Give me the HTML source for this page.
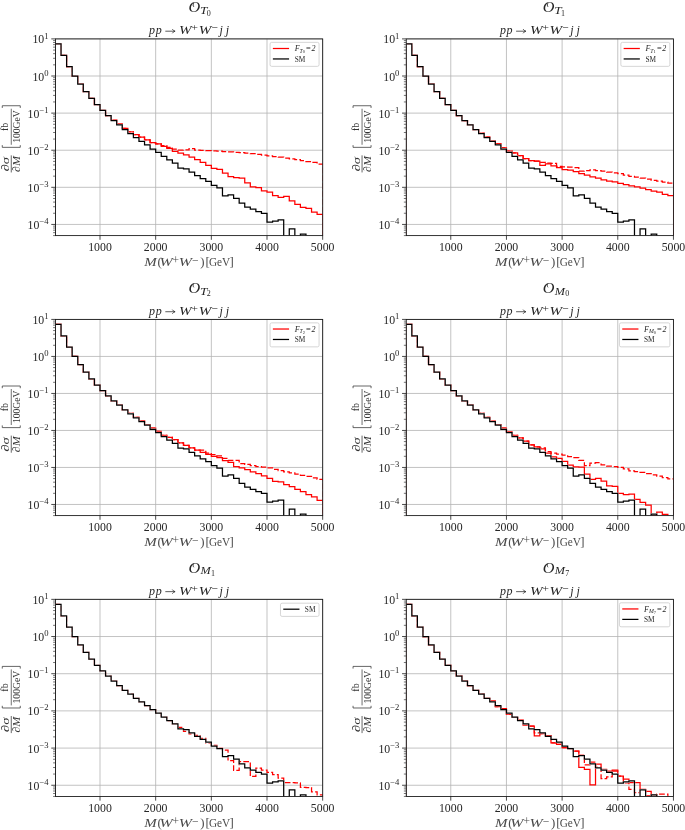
<!DOCTYPE html>
<html lang="en"><head><meta charset="utf-8"><title>VBS aQGC invariant mass distributions</title>
<style>html,body{margin:0;padding:0;background:#fff}body{width:685px;height:830px;overflow:hidden;font-family:"Liberation Serif",serif}svg{display:block;will-change:transform}svg text{font-family:"Liberation Serif",serif}</style></head><body>
<svg width="685" height="830" viewBox="0 0 685 830">
<rect width="685" height="830" fill="#ffffff"/>
<g fill="#262626">
<g>
<clipPath id="c0"><rect x="55.47" y="38.9" width="267.2" height="196.7"/></clipPath>
<path d="M100 38.9 V235.6 M155.67 38.9 V235.6 M211.34 38.9 V235.6 M267 38.9 V235.6 M322.67 38.9 V235.6 M55.47 38.9 H322.67 M55.47 76.01 H322.67 M55.47 113.11 H322.67 M55.47 150.22 H322.67 M55.47 187.32 H322.67 M55.47 224.43 H322.67" stroke="#b4b4b4" stroke-width="0.8" fill="none"/>
<mask id="m0" maskUnits="userSpaceOnUse" x="53.47" y="36.9" width="271.2" height="200.7"><rect x="53.47" y="36.9" width="271.2" height="200.7" fill="#fff"/><path d="M55.17 241.6 L55.17 43.95 L61.04 43.95 L61.04 55.38 L66.6 55.38 L66.6 66.58 L72.17 66.58 L72.17 76.01 L77.74 76.01 L77.74 84.24 L83.3 84.24 L83.3 91.7 L88.87 91.7 L88.87 98.46 L94.44 98.46 L94.44 104.69 L100 104.69 L100 110.33 L105.57 110.33 L105.57 115.52 L111.14 115.52 L111.14 120.53 L116.7 120.53 L116.7 124.95 L122.27 124.95 L122.27 129.66 L127.84 129.66 L127.84 133.56 L133.4 133.56 L133.4 137.64 L138.97 137.64 L138.97 141.31 L144.54 141.31 L144.54 144.95 L150.1 144.95 L150.1 149.07 L155.67 149.07 L155.67 152.33 L161.24 152.33 L161.24 156.34 L166.8 156.34 L166.8 159.87 L172.37 159.87 L172.37 163.24 L177.94 163.24 L177.94 168.07 L183.5 168.07 L183.5 168.81 L189.07 168.81 L189.07 172.11 L194.64 172.11 L194.64 175.71 L200.2 175.71 L200.2 178.72 L205.77 178.72 L205.77 181.39 L211.34 181.39 L211.34 185.47 L216.9 185.47 L216.9 187.92 L222.47 187.92 L222.47 195.93 L228.04 195.93 L228.04 194.86 L233.6 194.86 L233.6 198.34 L239.17 198.34 L239.17 203.21 L244.74 203.21 L244.74 207.1 L250.3 207.1 L250.3 209.22 L255.87 209.22 L255.87 211.59 L261.44 211.59 L261.44 213.3 L267 213.3 L267 222.2 L272.57 222.2 L272.57 221.16 L278.14 221.16 L278.14 219.98 L283.7 219.98 L283.7 241.6 L289.27 241.6 L289.27 228.99 L294.84 228.99 L294.84 241.6 L300.4 241.6 L300.4 234.04 L305.97 234.04 L305.97 241.6 L311.54 241.6 L311.54 241.6 L317.1 241.6 L317.1 241.6 L323.17 241.6 L323.17 241.6" fill="none" stroke="#000" stroke-width="1.5"/></mask>
<g clip-path="url(#c0)" fill="none" stroke-linejoin="miter" stroke-width="1.25">
<g mask="url(#m0)">
<path d="M55.17 241.6 L55.17 43.95 L61.04 43.95 L61.04 55.38 L66.6 55.38 L66.6 66.58 L72.17 66.58 L72.17 76.01 L77.74 76.01 L77.74 84.24 L83.3 84.24 L83.3 91.7 L88.87 91.7 L88.87 98.46 L94.44 98.46 L94.44 104.69 L100 104.69 L100 110.33 L105.57 110.33 L105.57 115.52 L111.14 115.52 L111.14 120.13 L116.7 120.13 L116.7 124.06 L122.27 124.06 L122.27 128.44 L127.84 128.44 L127.84 131.81 L133.4 131.81 L133.4 134.74 L138.97 134.74 L138.97 137.23 L144.54 137.23 L144.54 139.83 L150.1 139.83 L150.1 142.54 L155.67 142.54 L155.67 143.8 L161.24 143.8 L161.24 145.54 L166.8 145.54 L166.8 147.29 L172.37 147.29 L172.37 149.07 L177.94 149.07 L177.94 150.22 L183.5 150.22 L183.5 149.92 L189.07 149.92 L189.07 148.55 L194.64 148.55 L194.64 150.22 L200.2 150.22 L200.2 150.44 L205.77 150.44 L205.77 150.59 L211.34 150.59 L211.34 150.89 L216.9 150.89 L216.9 151.15 L222.47 151.15 L222.47 151.63 L228.04 151.63 L228.04 151.96 L233.6 151.96 L233.6 152.33 L239.17 152.33 L239.17 152.74 L244.74 152.74 L244.74 153.19 L250.3 153.19 L250.3 153.74 L255.87 153.74 L255.87 154.41 L261.44 154.41 L261.44 155.04 L267 155.04 L267 155.82 L272.57 155.82 L272.57 156.53 L278.14 156.53 L278.14 157.23 L283.7 157.23 L283.7 158.01 L289.27 158.01 L289.27 158.79 L294.84 158.79 L294.84 159.68 L300.4 159.68 L300.4 160.72 L305.97 160.72 L305.97 161.54 L311.54 161.54 L311.54 162.46 L317.1 162.46 L317.1 164.21 L323.17 164.21 L323.17 241.6" stroke="#ff0000" stroke-dasharray="5.7 2.2"/>
<path d="M55.17 241.6 L55.17 43.95 L61.04 43.95 L61.04 55.38 L66.6 55.38 L66.6 66.58 L72.17 66.58 L72.17 76.01 L77.74 76.01 L77.74 84.24 L83.3 84.24 L83.3 91.7 L88.87 91.7 L88.87 98.46 L94.44 98.46 L94.44 104.69 L100 104.69 L100 110.33 L105.57 110.33 L105.57 115.52 L111.14 115.52 L111.14 120.13 L116.7 120.13 L116.7 124.06 L122.27 124.06 L122.27 128.44 L127.84 128.44 L127.84 131.81 L133.4 131.81 L133.4 134.74 L138.97 134.74 L138.97 137.23 L144.54 137.23 L144.54 139.83 L150.1 139.83 L150.1 142.54 L155.67 142.54 L155.67 143.8 L161.24 143.8 L161.24 146.36 L166.8 146.36 L166.8 148.47 L172.37 148.47 L172.37 151.37 L177.94 151.37 L177.94 153.15 L183.5 153.15 L183.5 154.89 L189.07 154.89 L189.07 157.23 L194.64 157.23 L194.64 159.57 L200.2 159.57 L200.2 162.46 L205.77 162.46 L205.77 165.25 L211.34 165.25 L211.34 168.4 L216.9 168.4 L216.9 169.48 L222.47 169.48 L222.47 173.15 L228.04 173.15 L228.04 176.64 L233.6 176.64 L233.6 177.68 L239.17 177.68 L239.17 178.23 L244.74 178.23 L244.74 182.95 L250.3 182.95 L250.3 186.95 L255.87 186.95 L255.87 187.7 L261.44 187.7 L261.44 190.81 L267 190.81 L267 192.04 L272.57 192.04 L272.57 195.71 L278.14 195.71 L278.14 197.49 L283.7 197.49 L283.7 196.41 L289.27 196.41 L289.27 200.98 L294.84 200.98 L294.84 204.47 L300.4 204.47 L300.4 207.44 L305.97 207.44 L305.97 208.33 L311.54 208.33 L311.54 212.19 L317.1 212.19 L317.1 214.45 L323.17 214.45 L323.17 241.6" stroke="#ff0000"/>
</g>
<path d="M55.17 241.6 L55.17 43.95 L61.04 43.95 L61.04 55.38 L66.6 55.38 L66.6 66.58 L72.17 66.58 L72.17 76.01 L77.74 76.01 L77.74 84.24 L83.3 84.24 L83.3 91.7 L88.87 91.7 L88.87 98.46 L94.44 98.46 L94.44 104.69 L100 104.69 L100 110.33 L105.57 110.33 L105.57 115.52 L111.14 115.52 L111.14 120.53 L116.7 120.53 L116.7 124.95 L122.27 124.95 L122.27 129.66 L127.84 129.66 L127.84 133.56 L133.4 133.56 L133.4 137.64 L138.97 137.64 L138.97 141.31 L144.54 141.31 L144.54 144.95 L150.1 144.95 L150.1 149.07 L155.67 149.07 L155.67 152.33 L161.24 152.33 L161.24 156.34 L166.8 156.34 L166.8 159.87 L172.37 159.87 L172.37 163.24 L177.94 163.24 L177.94 168.07 L183.5 168.07 L183.5 168.81 L189.07 168.81 L189.07 172.11 L194.64 172.11 L194.64 175.71 L200.2 175.71 L200.2 178.72 L205.77 178.72 L205.77 181.39 L211.34 181.39 L211.34 185.47 L216.9 185.47 L216.9 187.92 L222.47 187.92 L222.47 195.93 L228.04 195.93 L228.04 194.86 L233.6 194.86 L233.6 198.34 L239.17 198.34 L239.17 203.21 L244.74 203.21 L244.74 207.1 L250.3 207.1 L250.3 209.22 L255.87 209.22 L255.87 211.59 L261.44 211.59 L261.44 213.3 L267 213.3 L267 222.2 L272.57 222.2 L272.57 221.16 L278.14 221.16 L278.14 219.98 L283.7 219.98 L283.7 241.6 L289.27 241.6 L289.27 228.99 L294.84 228.99 L294.84 241.6 L300.4 241.6 L300.4 234.04 L305.97 234.04 L305.97 241.6 L311.54 241.6 L311.54 241.6 L317.1 241.6 L317.1 241.6 L323.17 241.6 L323.17 241.6" stroke="#000000"/>
</g>
<path d="M100 235.6 v4.2 M155.67 235.6 v4.2 M211.34 235.6 v4.2 M267 235.6 v4.2 M322.67 235.6 v4.2 M55.47 38.9 h-4.2 M55.47 76.01 h-4.2 M55.47 113.11 h-4.2 M55.47 150.22 h-4.2 M55.47 187.32 h-4.2 M55.47 224.43 h-4.2" stroke="#1a1a1a" stroke-width="0.8" fill="none"/>
<path d="M55.47 64.84 h-2.4 M55.47 58.3 h-2.4 M55.47 53.67 h-2.4 M55.47 50.07 h-2.4 M55.47 47.13 h-2.4 M55.47 44.65 h-2.4 M55.47 42.5 h-2.4 M55.47 40.6 h-2.4 M55.47 101.94 h-2.4 M55.47 95.41 h-2.4 M55.47 90.77 h-2.4 M55.47 87.18 h-2.4 M55.47 84.24 h-2.4 M55.47 81.75 h-2.4 M55.47 79.6 h-2.4 M55.47 77.7 h-2.4 M55.47 139.05 h-2.4 M55.47 132.51 h-2.4 M55.47 127.88 h-2.4 M55.47 124.28 h-2.4 M55.47 121.34 h-2.4 M55.47 118.86 h-2.4 M55.47 116.71 h-2.4 M55.47 114.81 h-2.4 M55.47 176.15 h-2.4 M55.47 169.62 h-2.4 M55.47 164.98 h-2.4 M55.47 161.39 h-2.4 M55.47 158.45 h-2.4 M55.47 155.97 h-2.4 M55.47 153.81 h-2.4 M55.47 151.92 h-2.4 M55.47 213.26 h-2.4 M55.47 206.73 h-2.4 M55.47 202.09 h-2.4 M55.47 198.49 h-2.4 M55.47 195.56 h-2.4 M55.47 193.07 h-2.4 M55.47 190.92 h-2.4 M55.47 189.02 h-2.4 M55.47 235.6 h-2.4 M55.47 232.66 h-2.4 M55.47 230.18 h-2.4 M55.47 228.03 h-2.4 M55.47 226.13 h-2.4" stroke="#1a1a1a" stroke-width="0.6" fill="none"/>
<rect x="55.47" y="38.9" width="267.2" height="196.7" fill="none" stroke="#1a1a1a" stroke-width="0.88"/>
<text x="100" y="251.2" font-size="11.8" text-anchor="middle">1000</text>
<text x="155.67" y="251.2" font-size="11.8" text-anchor="middle">2000</text>
<text x="211.34" y="251.2" font-size="11.8" text-anchor="middle">3000</text>
<text x="267" y="251.2" font-size="11.8" text-anchor="middle">4000</text>
<text x="322.67" y="251.2" font-size="11.8" text-anchor="middle">5000</text>
<text x="48.57" y="43.4" font-size="11.8" text-anchor="end">10<tspan dy="-4.9" font-size="8.6">1</tspan></text>
<text x="48.57" y="80.51" font-size="11.8" text-anchor="end">10<tspan dy="-4.9" font-size="8.6">0</tspan></text>
<text x="48.57" y="117.61" font-size="11.8" text-anchor="end">10<tspan dy="-4.9" font-size="8.6">−1</tspan></text>
<text x="48.57" y="154.72" font-size="11.8" text-anchor="end">10<tspan dy="-4.9" font-size="8.6">−2</tspan></text>
<text x="48.57" y="191.82" font-size="11.8" text-anchor="end">10<tspan dy="-4.9" font-size="8.6">−3</tspan></text>
<text x="48.57" y="228.93" font-size="11.8" text-anchor="end">10<tspan dy="-4.9" font-size="8.6">−4</tspan></text>
<text x="144.32" y="265.9" font-size="12.8" font-style="italic" textLength="12.5" lengthAdjust="spacingAndGlyphs" fill="#4a4a4a">M</text>
<text x="157.42" y="265.9" font-size="12.8" fill="#4a4a4a">(</text>
<text x="159.42" y="265.9" font-size="12.8" font-style="italic" textLength="13.2" lengthAdjust="spacingAndGlyphs" fill="#4a4a4a">W</text>
<text x="172.62" y="263.9" font-size="11.6" fill="#4a4a4a">+</text>
<text x="178.72" y="265.9" font-size="12.8" font-style="italic" textLength="13.2" lengthAdjust="spacingAndGlyphs" fill="#4a4a4a">W</text>
<text x="192.02" y="263.9" font-size="11.6" fill="#4a4a4a">−</text>
<text x="200.32" y="265.9" font-size="12.8" fill="#4a4a4a">)</text>
<text x="205.42" y="265.9" font-size="12.8" fill="#4a4a4a">[</text>
<text x="208.92" y="265.9" font-size="12.8" textLength="21.3" lengthAdjust="spacingAndGlyphs" fill="#4a4a4a">GeV</text>
<text x="229.42" y="265.9" font-size="12.8" fill="#4a4a4a">]</text>
<text x="149.12" y="34.1" font-size="12" font-style="italic" textLength="12.6" lengthAdjust="spacing">pp</text>
<path d="M165.32 31.2 h9.6 m-2.6 -2.1 q0.9 1.6 2.8 2.1 q-1.9 0.5 -2.8 2.1" fill="none" stroke="#262626" stroke-width="0.75"/>
<text x="179.12" y="34.1" font-size="12" font-style="italic" textLength="12.6" lengthAdjust="spacingAndGlyphs">W</text>
<text x="191.62" y="31.3" font-size="11.4">+</text>
<text x="198.82" y="34.1" font-size="12" font-style="italic" textLength="12.6" lengthAdjust="spacingAndGlyphs">W</text>
<text x="211.42" y="31.3" font-size="11.4">−</text>
<text x="219.42" y="34.1" font-size="12" font-style="italic">j</text>
<text x="225.82" y="34.1" font-size="12" font-style="italic">j</text>
<g transform="translate(10.17 139.15) rotate(-90)" fill="#333333">
<text x="-25" y="-0.9" font-size="11" text-anchor="middle" font-style="italic" textLength="14.4" lengthAdjust="spacingAndGlyphs">∂σ</text>
<path d="M-33.3 1.1 H-16.2" stroke="#333333" stroke-width="0.75"/>
<text x="-24.8" y="10.2" font-size="10.8" text-anchor="middle" font-style="italic" textLength="16" lengthAdjust="spacingAndGlyphs">∂M</text>
<path d="M-6.0 -7.9 H-8.2 V10.1 H-6.0" stroke="#333333" stroke-width="0.75" fill="none"/>
<text x="12.3" y="-1.9" font-size="10" text-anchor="middle">fb</text>
<path d="M-5.6 1.1 H30.4" stroke="#333333" stroke-width="0.7"/>
<text x="12.6" y="9.8" font-size="10.2" text-anchor="middle" textLength="32.6" lengthAdjust="spacingAndGlyphs">100GeV</text>
<path d="M31.2 -7.9 H33.4 V10.1 H31.2" stroke="#333333" stroke-width="0.75" fill="none"/>
</g>
<text x="188.47" y="12.3" font-size="13.8" font-style="italic" textLength="11.7" lengthAdjust="spacingAndGlyphs">O</text>
<path transform="translate(188.97 12.1)" d="M4.6 -5.6 C4.0 -6.4 3.9 -7.6 4.6 -8.7" fill="none" stroke="#262626" stroke-width="0.9" stroke-linecap="round"/>
<text x="199.97" y="14" font-size="9.4" font-style="italic" textLength="7.4" lengthAdjust="spacingAndGlyphs">T</text>
<text x="206.87" y="15.5" font-size="8">0</text>
<rect x="270.07" y="42.35" width="49" height="24" rx="1.6" fill="#ffffff" fill-opacity="0.8" stroke="#cccccc" stroke-width="0.8"/>
<path d="M272.87 48.5 h16.2" stroke="#ff0000" stroke-width="1.25"/>
<path d="M272.87 58.95 h16.2" stroke="#000000" stroke-width="1.25"/>
<text x="294.67" y="51.1" font-size="8"><tspan font-style="italic">F</tspan><tspan dy="1.4" font-size="5.8" font-style="italic">T</tspan><tspan dy="0.9" font-size="4.4">0</tspan><tspan dy="-2.3" dx="1.1" font-size="8.4">=</tspan><tspan dx="0.7" font-style="italic">2</tspan></text>
<text x="294.67" y="61.6" font-size="7.7" textLength="10.6" lengthAdjust="spacingAndGlyphs">SM</text>
</g>
<g>
<clipPath id="c1"><rect x="406.25" y="38.9" width="267.2" height="196.7"/></clipPath>
<path d="M450.78 38.9 V235.6 M506.45 38.9 V235.6 M562.12 38.9 V235.6 M617.78 38.9 V235.6 M673.45 38.9 V235.6 M406.25 38.9 H673.45 M406.25 76.01 H673.45 M406.25 113.11 H673.45 M406.25 150.22 H673.45 M406.25 187.32 H673.45 M406.25 224.43 H673.45" stroke="#b4b4b4" stroke-width="0.8" fill="none"/>
<mask id="m1" maskUnits="userSpaceOnUse" x="404.25" y="36.9" width="271.2" height="200.7"><rect x="404.25" y="36.9" width="271.2" height="200.7" fill="#fff"/><path d="M405.95 241.6 L405.95 43.95 L411.82 43.95 L411.82 55.38 L417.38 55.38 L417.38 66.58 L422.95 66.58 L422.95 76.01 L428.52 76.01 L428.52 84.24 L434.08 84.24 L434.08 91.7 L439.65 91.7 L439.65 98.46 L445.22 98.46 L445.22 104.69 L450.78 104.69 L450.78 110.33 L456.35 110.33 L456.35 115.52 L461.92 115.52 L461.92 120.53 L467.48 120.53 L467.48 124.95 L473.05 124.95 L473.05 129.66 L478.62 129.66 L478.62 133.56 L484.18 133.56 L484.18 137.64 L489.75 137.64 L489.75 141.31 L495.32 141.31 L495.32 144.95 L500.88 144.95 L500.88 149.07 L506.45 149.07 L506.45 152.33 L512.02 152.33 L512.02 156.34 L517.58 156.34 L517.58 159.87 L523.15 159.87 L523.15 163.24 L528.72 163.24 L528.72 168.07 L534.28 168.07 L534.28 168.81 L539.85 168.81 L539.85 172.11 L545.42 172.11 L545.42 175.71 L550.98 175.71 L550.98 178.72 L556.55 178.72 L556.55 181.39 L562.12 181.39 L562.12 185.47 L567.68 185.47 L567.68 187.92 L573.25 187.92 L573.25 195.93 L578.82 195.93 L578.82 194.86 L584.38 194.86 L584.38 198.34 L589.95 198.34 L589.95 203.21 L595.52 203.21 L595.52 207.1 L601.08 207.1 L601.08 209.22 L606.65 209.22 L606.65 211.59 L612.22 211.59 L612.22 213.3 L617.78 213.3 L617.78 222.2 L623.35 222.2 L623.35 221.16 L628.92 221.16 L628.92 219.98 L634.48 219.98 L634.48 241.6 L640.05 241.6 L640.05 228.99 L645.62 228.99 L645.62 241.6 L651.18 241.6 L651.18 234.04 L656.75 234.04 L656.75 241.6 L662.32 241.6 L662.32 241.6 L667.88 241.6 L667.88 241.6 L673.95 241.6 L673.95 241.6" fill="none" stroke="#000" stroke-width="1.5"/></mask>
<g clip-path="url(#c1)" fill="none" stroke-linejoin="miter" stroke-width="1.25">
<g mask="url(#m1)">
<path d="M405.95 241.6 L405.95 43.95 L411.82 43.95 L411.82 55.38 L417.38 55.38 L417.38 66.58 L422.95 66.58 L422.95 76.01 L428.52 76.01 L428.52 84.24 L434.08 84.24 L434.08 91.7 L439.65 91.7 L439.65 98.46 L445.22 98.46 L445.22 104.69 L450.78 104.69 L450.78 110.33 L456.35 110.33 L456.35 115.52 L461.92 115.52 L461.92 120.53 L467.48 120.53 L467.48 124.95 L473.05 124.95 L473.05 129.66 L478.62 129.66 L478.62 133.19 L484.18 133.19 L484.18 137.08 L489.75 137.08 L489.75 140.57 L495.32 140.57 L495.32 143.84 L500.88 143.84 L500.88 147.81 L506.45 147.81 L506.45 151.15 L512.02 151.15 L512.02 152.96 L517.58 152.96 L517.58 155.52 L523.15 155.52 L523.15 158.6 L528.72 158.6 L528.72 160.64 L534.28 160.64 L534.28 161.16 L539.85 161.16 L539.85 162.46 L545.42 162.46 L545.42 163.21 L550.98 163.21 L550.98 163.39 L556.55 163.39 L556.55 166.47 L562.12 166.47 L562.12 166.92 L567.68 166.92 L567.68 167.21 L573.25 167.21 L573.25 167.55 L578.82 167.55 L578.82 171.22 L584.38 171.22 L584.38 170.7 L589.95 170.7 L589.95 169.81 L595.52 169.81 L595.52 170.7 L601.08 170.7 L601.08 171.22 L606.65 171.22 L606.65 172.11 L612.22 172.11 L612.22 172.78 L617.78 172.78 L617.78 173.67 L623.35 173.67 L623.35 175.08 L628.92 175.08 L628.92 176.3 L634.48 176.3 L634.48 177.16 L640.05 177.16 L640.05 178.23 L645.62 178.23 L645.62 179.09 L651.18 179.09 L651.18 180.31 L656.75 180.31 L656.75 181.2 L662.32 181.2 L662.32 182.05 L667.88 182.05 L667.88 183.13 L673.95 183.13 L673.95 241.6" stroke="#ff0000" stroke-dasharray="5.7 2.2"/>
<path d="M405.95 241.6 L405.95 43.95 L411.82 43.95 L411.82 55.38 L417.38 55.38 L417.38 66.58 L422.95 66.58 L422.95 76.01 L428.52 76.01 L428.52 84.24 L434.08 84.24 L434.08 91.7 L439.65 91.7 L439.65 98.46 L445.22 98.46 L445.22 104.69 L450.78 104.69 L450.78 110.33 L456.35 110.33 L456.35 115.52 L461.92 115.52 L461.92 120.53 L467.48 120.53 L467.48 124.95 L473.05 124.95 L473.05 129.66 L478.62 129.66 L478.62 133.19 L484.18 133.19 L484.18 137.08 L489.75 137.08 L489.75 140.57 L495.32 140.57 L495.32 143.84 L500.88 143.84 L500.88 147.81 L506.45 147.81 L506.45 151.15 L512.02 151.15 L512.02 152.96 L517.58 152.96 L517.58 155.52 L523.15 155.52 L523.15 158.6 L528.72 158.6 L528.72 160.64 L534.28 160.64 L534.28 161.16 L539.85 161.16 L539.85 165.43 L545.42 165.43 L545.42 163.95 L550.98 163.95 L550.98 165.77 L556.55 165.77 L556.55 167.51 L562.12 167.51 L562.12 169.59 L567.68 169.59 L567.68 170.18 L573.25 170.18 L573.25 171.55 L578.82 171.55 L578.82 173.67 L584.38 173.67 L584.38 175.08 L589.95 175.08 L589.95 176.82 L595.52 176.82 L595.52 178.23 L601.08 178.23 L601.08 179.9 L606.65 179.9 L606.65 181.2 L612.22 181.2 L612.22 181.76 L617.78 181.76 L617.78 183.46 L623.35 183.46 L623.35 184.73 L628.92 184.73 L628.92 185.91 L634.48 185.91 L634.48 186.95 L640.05 186.95 L640.05 188.21 L645.62 188.21 L645.62 189.55 L651.18 189.55 L651.18 191.18 L656.75 191.18 L656.75 192.22 L662.32 192.22 L662.32 194.34 L667.88 194.34 L667.88 195.71 L673.95 195.71 L673.95 241.6" stroke="#ff0000"/>
</g>
<path d="M405.95 241.6 L405.95 43.95 L411.82 43.95 L411.82 55.38 L417.38 55.38 L417.38 66.58 L422.95 66.58 L422.95 76.01 L428.52 76.01 L428.52 84.24 L434.08 84.24 L434.08 91.7 L439.65 91.7 L439.65 98.46 L445.22 98.46 L445.22 104.69 L450.78 104.69 L450.78 110.33 L456.35 110.33 L456.35 115.52 L461.92 115.52 L461.92 120.53 L467.48 120.53 L467.48 124.95 L473.05 124.95 L473.05 129.66 L478.62 129.66 L478.62 133.56 L484.18 133.56 L484.18 137.64 L489.75 137.64 L489.75 141.31 L495.32 141.31 L495.32 144.95 L500.88 144.95 L500.88 149.07 L506.45 149.07 L506.45 152.33 L512.02 152.33 L512.02 156.34 L517.58 156.34 L517.58 159.87 L523.15 159.87 L523.15 163.24 L528.72 163.24 L528.72 168.07 L534.28 168.07 L534.28 168.81 L539.85 168.81 L539.85 172.11 L545.42 172.11 L545.42 175.71 L550.98 175.71 L550.98 178.72 L556.55 178.72 L556.55 181.39 L562.12 181.39 L562.12 185.47 L567.68 185.47 L567.68 187.92 L573.25 187.92 L573.25 195.93 L578.82 195.93 L578.82 194.86 L584.38 194.86 L584.38 198.34 L589.95 198.34 L589.95 203.21 L595.52 203.21 L595.52 207.1 L601.08 207.1 L601.08 209.22 L606.65 209.22 L606.65 211.59 L612.22 211.59 L612.22 213.3 L617.78 213.3 L617.78 222.2 L623.35 222.2 L623.35 221.16 L628.92 221.16 L628.92 219.98 L634.48 219.98 L634.48 241.6 L640.05 241.6 L640.05 228.99 L645.62 228.99 L645.62 241.6 L651.18 241.6 L651.18 234.04 L656.75 234.04 L656.75 241.6 L662.32 241.6 L662.32 241.6 L667.88 241.6 L667.88 241.6 L673.95 241.6 L673.95 241.6" stroke="#000000"/>
</g>
<path d="M450.78 235.6 v4.2 M506.45 235.6 v4.2 M562.12 235.6 v4.2 M617.78 235.6 v4.2 M673.45 235.6 v4.2 M406.25 38.9 h-4.2 M406.25 76.01 h-4.2 M406.25 113.11 h-4.2 M406.25 150.22 h-4.2 M406.25 187.32 h-4.2 M406.25 224.43 h-4.2" stroke="#1a1a1a" stroke-width="0.8" fill="none"/>
<path d="M406.25 64.84 h-2.4 M406.25 58.3 h-2.4 M406.25 53.67 h-2.4 M406.25 50.07 h-2.4 M406.25 47.13 h-2.4 M406.25 44.65 h-2.4 M406.25 42.5 h-2.4 M406.25 40.6 h-2.4 M406.25 101.94 h-2.4 M406.25 95.41 h-2.4 M406.25 90.77 h-2.4 M406.25 87.18 h-2.4 M406.25 84.24 h-2.4 M406.25 81.75 h-2.4 M406.25 79.6 h-2.4 M406.25 77.7 h-2.4 M406.25 139.05 h-2.4 M406.25 132.51 h-2.4 M406.25 127.88 h-2.4 M406.25 124.28 h-2.4 M406.25 121.34 h-2.4 M406.25 118.86 h-2.4 M406.25 116.71 h-2.4 M406.25 114.81 h-2.4 M406.25 176.15 h-2.4 M406.25 169.62 h-2.4 M406.25 164.98 h-2.4 M406.25 161.39 h-2.4 M406.25 158.45 h-2.4 M406.25 155.97 h-2.4 M406.25 153.81 h-2.4 M406.25 151.92 h-2.4 M406.25 213.26 h-2.4 M406.25 206.73 h-2.4 M406.25 202.09 h-2.4 M406.25 198.49 h-2.4 M406.25 195.56 h-2.4 M406.25 193.07 h-2.4 M406.25 190.92 h-2.4 M406.25 189.02 h-2.4 M406.25 235.6 h-2.4 M406.25 232.66 h-2.4 M406.25 230.18 h-2.4 M406.25 228.03 h-2.4 M406.25 226.13 h-2.4" stroke="#1a1a1a" stroke-width="0.6" fill="none"/>
<rect x="406.25" y="38.9" width="267.2" height="196.7" fill="none" stroke="#1a1a1a" stroke-width="0.88"/>
<text x="450.78" y="251.2" font-size="11.8" text-anchor="middle">1000</text>
<text x="506.45" y="251.2" font-size="11.8" text-anchor="middle">2000</text>
<text x="562.12" y="251.2" font-size="11.8" text-anchor="middle">3000</text>
<text x="617.78" y="251.2" font-size="11.8" text-anchor="middle">4000</text>
<text x="673.45" y="251.2" font-size="11.8" text-anchor="middle">5000</text>
<text x="399.35" y="43.4" font-size="11.8" text-anchor="end">10<tspan dy="-4.9" font-size="8.6">1</tspan></text>
<text x="399.35" y="80.51" font-size="11.8" text-anchor="end">10<tspan dy="-4.9" font-size="8.6">0</tspan></text>
<text x="399.35" y="117.61" font-size="11.8" text-anchor="end">10<tspan dy="-4.9" font-size="8.6">−1</tspan></text>
<text x="399.35" y="154.72" font-size="11.8" text-anchor="end">10<tspan dy="-4.9" font-size="8.6">−2</tspan></text>
<text x="399.35" y="191.82" font-size="11.8" text-anchor="end">10<tspan dy="-4.9" font-size="8.6">−3</tspan></text>
<text x="399.35" y="228.93" font-size="11.8" text-anchor="end">10<tspan dy="-4.9" font-size="8.6">−4</tspan></text>
<text x="495.1" y="265.9" font-size="12.8" font-style="italic" textLength="12.5" lengthAdjust="spacingAndGlyphs" fill="#4a4a4a">M</text>
<text x="508.2" y="265.9" font-size="12.8" fill="#4a4a4a">(</text>
<text x="510.2" y="265.9" font-size="12.8" font-style="italic" textLength="13.2" lengthAdjust="spacingAndGlyphs" fill="#4a4a4a">W</text>
<text x="523.4" y="263.9" font-size="11.6" fill="#4a4a4a">+</text>
<text x="529.5" y="265.9" font-size="12.8" font-style="italic" textLength="13.2" lengthAdjust="spacingAndGlyphs" fill="#4a4a4a">W</text>
<text x="542.8" y="263.9" font-size="11.6" fill="#4a4a4a">−</text>
<text x="551.1" y="265.9" font-size="12.8" fill="#4a4a4a">)</text>
<text x="556.2" y="265.9" font-size="12.8" fill="#4a4a4a">[</text>
<text x="559.7" y="265.9" font-size="12.8" textLength="21.3" lengthAdjust="spacingAndGlyphs" fill="#4a4a4a">GeV</text>
<text x="580.2" y="265.9" font-size="12.8" fill="#4a4a4a">]</text>
<text x="499.9" y="34.1" font-size="12" font-style="italic" textLength="12.6" lengthAdjust="spacing">pp</text>
<path d="M516.1 31.2 h9.6 m-2.6 -2.1 q0.9 1.6 2.8 2.1 q-1.9 0.5 -2.8 2.1" fill="none" stroke="#262626" stroke-width="0.75"/>
<text x="529.9" y="34.1" font-size="12" font-style="italic" textLength="12.6" lengthAdjust="spacingAndGlyphs">W</text>
<text x="542.4" y="31.3" font-size="11.4">+</text>
<text x="549.6" y="34.1" font-size="12" font-style="italic" textLength="12.6" lengthAdjust="spacingAndGlyphs">W</text>
<text x="562.2" y="31.3" font-size="11.4">−</text>
<text x="570.2" y="34.1" font-size="12" font-style="italic">j</text>
<text x="576.6" y="34.1" font-size="12" font-style="italic">j</text>
<g transform="translate(360.95 139.15) rotate(-90)" fill="#333333">
<text x="-25" y="-0.9" font-size="11" text-anchor="middle" font-style="italic" textLength="14.4" lengthAdjust="spacingAndGlyphs">∂σ</text>
<path d="M-33.3 1.1 H-16.2" stroke="#333333" stroke-width="0.75"/>
<text x="-24.8" y="10.2" font-size="10.8" text-anchor="middle" font-style="italic" textLength="16" lengthAdjust="spacingAndGlyphs">∂M</text>
<path d="M-6.0 -7.9 H-8.2 V10.1 H-6.0" stroke="#333333" stroke-width="0.75" fill="none"/>
<text x="12.3" y="-1.9" font-size="10" text-anchor="middle">fb</text>
<path d="M-5.6 1.1 H30.4" stroke="#333333" stroke-width="0.7"/>
<text x="12.6" y="9.8" font-size="10.2" text-anchor="middle" textLength="32.6" lengthAdjust="spacingAndGlyphs">100GeV</text>
<path d="M31.2 -7.9 H33.4 V10.1 H31.2" stroke="#333333" stroke-width="0.75" fill="none"/>
</g>
<text x="542.65" y="12.3" font-size="13.8" font-style="italic" textLength="11.7" lengthAdjust="spacingAndGlyphs">O</text>
<path transform="translate(543.15 12.1)" d="M4.6 -5.6 C4.0 -6.4 3.9 -7.6 4.6 -8.7" fill="none" stroke="#262626" stroke-width="0.9" stroke-linecap="round"/>
<text x="554.15" y="14" font-size="9.4" font-style="italic" textLength="7.4" lengthAdjust="spacingAndGlyphs">T</text>
<text x="561.05" y="15.5" font-size="8">1</text>
<rect x="620.85" y="42.35" width="49" height="24" rx="1.6" fill="#ffffff" fill-opacity="0.8" stroke="#cccccc" stroke-width="0.8"/>
<path d="M623.65 48.5 h16.2" stroke="#ff0000" stroke-width="1.25"/>
<path d="M623.65 58.95 h16.2" stroke="#000000" stroke-width="1.25"/>
<text x="645.45" y="51.1" font-size="8"><tspan font-style="italic">F</tspan><tspan dy="1.4" font-size="5.8" font-style="italic">T</tspan><tspan dy="0.9" font-size="4.4">1</tspan><tspan dy="-2.3" dx="1.1" font-size="8.4">=</tspan><tspan dx="0.7" font-style="italic">2</tspan></text>
<text x="645.45" y="61.6" font-size="7.7" textLength="10.6" lengthAdjust="spacingAndGlyphs">SM</text>
</g>
<g>
<clipPath id="c2"><rect x="55.47" y="319.42" width="267.2" height="196.18"/></clipPath>
<path d="M100 319.42 V515.6 M155.67 319.42 V515.6 M211.34 319.42 V515.6 M267 319.42 V515.6 M322.67 319.42 V515.6 M55.47 319.42 H322.67 M55.47 356.43 H322.67 M55.47 393.44 H322.67 M55.47 430.44 H322.67 M55.47 467.45 H322.67 M55.47 504.46 H322.67" stroke="#b4b4b4" stroke-width="0.8" fill="none"/>
<mask id="m2" maskUnits="userSpaceOnUse" x="53.47" y="317.42" width="271.2" height="200.18"><rect x="53.47" y="317.42" width="271.2" height="200.18" fill="#fff"/><path d="M55.17 521.6 L55.17 324.45 L61.04 324.45 L61.04 335.85 L66.6 335.85 L66.6 347.03 L72.17 347.03 L72.17 356.43 L77.74 356.43 L77.74 364.64 L83.3 364.64 L83.3 372.08 L88.87 372.08 L88.87 378.82 L94.44 378.82 L94.44 385.04 L100 385.04 L100 390.66 L105.57 390.66 L105.57 395.84 L111.14 395.84 L111.14 400.84 L116.7 400.84 L116.7 405.24 L122.27 405.24 L122.27 409.94 L127.84 409.94 L127.84 413.83 L133.4 413.83 L133.4 417.9 L138.97 417.9 L138.97 421.56 L144.54 421.56 L144.54 425.19 L150.1 425.19 L150.1 429.3 L155.67 429.3 L155.67 432.55 L161.24 432.55 L161.24 436.55 L166.8 436.55 L166.8 440.07 L172.37 440.07 L172.37 443.43 L177.94 443.43 L177.94 448.24 L183.5 448.24 L183.5 448.98 L189.07 448.98 L189.07 452.28 L194.64 452.28 L194.64 455.87 L200.2 455.87 L200.2 458.87 L205.77 458.87 L205.77 461.53 L211.34 461.53 L211.34 465.6 L216.9 465.6 L216.9 468.04 L222.47 468.04 L222.47 476.04 L228.04 476.04 L228.04 474.96 L233.6 474.96 L233.6 478.44 L239.17 478.44 L239.17 483.29 L244.74 483.29 L244.74 487.18 L250.3 487.18 L250.3 489.29 L255.87 489.29 L255.87 491.65 L261.44 491.65 L261.44 493.36 L267 493.36 L267 502.24 L272.57 502.24 L272.57 501.2 L278.14 501.2 L278.14 500.02 L283.7 500.02 L283.7 521.6 L289.27 521.6 L289.27 509.01 L294.84 509.01 L294.84 521.6 L300.4 521.6 L300.4 514.04 L305.97 514.04 L305.97 521.6 L311.54 521.6 L311.54 521.6 L317.1 521.6 L317.1 521.6 L323.17 521.6 L323.17 521.6" fill="none" stroke="#000" stroke-width="1.5"/></mask>
<g clip-path="url(#c2)" fill="none" stroke-linejoin="miter" stroke-width="1.25">
<g mask="url(#m2)">
<path d="M55.17 521.6 L55.17 324.45 L61.04 324.45 L61.04 335.85 L66.6 335.85 L66.6 347.03 L72.17 347.03 L72.17 356.43 L77.74 356.43 L77.74 364.64 L83.3 364.64 L83.3 372.08 L88.87 372.08 L88.87 378.82 L94.44 378.82 L94.44 385.04 L100 385.04 L100 390.66 L105.57 390.66 L105.57 395.84 L111.14 395.84 L111.14 400.84 L116.7 400.84 L116.7 405.24 L122.27 405.24 L122.27 409.94 L127.84 409.94 L127.84 413.46 L133.4 413.46 L133.4 417.34 L138.97 417.34 L138.97 420.86 L144.54 420.86 L144.54 424.52 L150.1 424.52 L150.1 428.08 L155.67 428.08 L155.67 431.37 L161.24 431.37 L161.24 435.29 L166.8 435.29 L166.8 437.25 L172.37 437.25 L172.37 439.62 L177.94 439.62 L177.94 442.77 L183.5 442.77 L183.5 445.39 L189.07 445.39 L189.07 447.76 L194.64 447.76 L194.64 450.13 L200.2 450.13 L200.2 450.13 L205.77 450.13 L205.77 453.02 L211.34 453.02 L211.34 454.5 L216.9 454.5 L216.9 455.98 L222.47 455.98 L222.47 458.38 L228.04 458.38 L228.04 460.42 L233.6 460.42 L233.6 460.42 L239.17 460.42 L239.17 463.6 L244.74 463.6 L244.74 464.45 L250.3 464.45 L250.3 465.68 L255.87 465.68 L255.87 466.71 L261.44 466.71 L261.44 467.08 L267 467.08 L267 467.97 L272.57 467.97 L272.57 469.38 L278.14 469.38 L278.14 470.6 L283.7 470.6 L283.7 471.97 L289.27 471.97 L289.27 472.85 L294.84 472.85 L294.84 474.08 L300.4 474.08 L300.4 475.48 L305.97 475.48 L305.97 476.33 L311.54 476.33 L311.54 477.92 L317.1 477.92 L317.1 479.33 L323.17 479.33 L323.17 521.6" stroke="#ff0000" stroke-dasharray="5.7 2.2"/>
<path d="M55.17 521.6 L55.17 324.45 L61.04 324.45 L61.04 335.85 L66.6 335.85 L66.6 347.03 L72.17 347.03 L72.17 356.43 L77.74 356.43 L77.74 364.64 L83.3 364.64 L83.3 372.08 L88.87 372.08 L88.87 378.82 L94.44 378.82 L94.44 385.04 L100 385.04 L100 390.66 L105.57 390.66 L105.57 395.84 L111.14 395.84 L111.14 400.84 L116.7 400.84 L116.7 405.24 L122.27 405.24 L122.27 409.94 L127.84 409.94 L127.84 413.46 L133.4 413.46 L133.4 417.34 L138.97 417.34 L138.97 420.86 L144.54 420.86 L144.54 424.52 L150.1 424.52 L150.1 428.08 L155.67 428.08 L155.67 431.37 L161.24 431.37 L161.24 435.29 L166.8 435.29 L166.8 437.25 L172.37 437.25 L172.37 439.62 L177.94 439.62 L177.94 442.77 L183.5 442.77 L183.5 445.39 L189.07 445.39 L189.07 447.76 L194.64 447.76 L194.64 450.13 L200.2 450.13 L200.2 452.35 L205.77 452.35 L205.77 454.31 L211.34 454.31 L211.34 456.35 L216.9 456.35 L216.9 457.53 L222.47 457.53 L222.47 460.61 L228.04 460.61 L228.04 462.34 L233.6 462.34 L233.6 466.71 L239.17 466.71 L239.17 467.97 L244.74 467.97 L244.74 469.71 L250.3 469.71 L250.3 471.97 L255.87 471.97 L255.87 473.74 L261.44 473.74 L261.44 475.82 L267 475.82 L267 478.44 L272.57 478.44 L272.57 481.44 L278.14 481.44 L278.14 481.96 L283.7 481.96 L283.7 484.59 L289.27 484.59 L289.27 486.66 L294.84 486.66 L294.84 489.47 L300.4 489.47 L300.4 491.58 L305.97 491.58 L305.97 494.73 L311.54 494.73 L311.54 496.84 L317.1 496.84 L317.1 500.31 L323.17 500.31 L323.17 521.6" stroke="#ff0000"/>
</g>
<path d="M55.17 521.6 L55.17 324.45 L61.04 324.45 L61.04 335.85 L66.6 335.85 L66.6 347.03 L72.17 347.03 L72.17 356.43 L77.74 356.43 L77.74 364.64 L83.3 364.64 L83.3 372.08 L88.87 372.08 L88.87 378.82 L94.44 378.82 L94.44 385.04 L100 385.04 L100 390.66 L105.57 390.66 L105.57 395.84 L111.14 395.84 L111.14 400.84 L116.7 400.84 L116.7 405.24 L122.27 405.24 L122.27 409.94 L127.84 409.94 L127.84 413.83 L133.4 413.83 L133.4 417.9 L138.97 417.9 L138.97 421.56 L144.54 421.56 L144.54 425.19 L150.1 425.19 L150.1 429.3 L155.67 429.3 L155.67 432.55 L161.24 432.55 L161.24 436.55 L166.8 436.55 L166.8 440.07 L172.37 440.07 L172.37 443.43 L177.94 443.43 L177.94 448.24 L183.5 448.24 L183.5 448.98 L189.07 448.98 L189.07 452.28 L194.64 452.28 L194.64 455.87 L200.2 455.87 L200.2 458.87 L205.77 458.87 L205.77 461.53 L211.34 461.53 L211.34 465.6 L216.9 465.6 L216.9 468.04 L222.47 468.04 L222.47 476.04 L228.04 476.04 L228.04 474.96 L233.6 474.96 L233.6 478.44 L239.17 478.44 L239.17 483.29 L244.74 483.29 L244.74 487.18 L250.3 487.18 L250.3 489.29 L255.87 489.29 L255.87 491.65 L261.44 491.65 L261.44 493.36 L267 493.36 L267 502.24 L272.57 502.24 L272.57 501.2 L278.14 501.2 L278.14 500.02 L283.7 500.02 L283.7 521.6 L289.27 521.6 L289.27 509.01 L294.84 509.01 L294.84 521.6 L300.4 521.6 L300.4 514.04 L305.97 514.04 L305.97 521.6 L311.54 521.6 L311.54 521.6 L317.1 521.6 L317.1 521.6 L323.17 521.6 L323.17 521.6" stroke="#000000"/>
</g>
<path d="M100 515.6 v4.2 M155.67 515.6 v4.2 M211.34 515.6 v4.2 M267 515.6 v4.2 M322.67 515.6 v4.2 M55.47 319.42 h-4.2 M55.47 356.43 h-4.2 M55.47 393.44 h-4.2 M55.47 430.44 h-4.2 M55.47 467.45 h-4.2 M55.47 504.46 h-4.2" stroke="#1a1a1a" stroke-width="0.8" fill="none"/>
<path d="M55.47 345.29 h-2.4 M55.47 338.77 h-2.4 M55.47 334.15 h-2.4 M55.47 330.56 h-2.4 M55.47 327.63 h-2.4 M55.47 325.15 h-2.4 M55.47 323.01 h-2.4 M55.47 321.11 h-2.4 M55.47 382.3 h-2.4 M55.47 375.78 h-2.4 M55.47 371.15 h-2.4 M55.47 367.57 h-2.4 M55.47 364.64 h-2.4 M55.47 362.16 h-2.4 M55.47 360.01 h-2.4 M55.47 358.12 h-2.4 M55.47 419.3 h-2.4 M55.47 412.79 h-2.4 M55.47 408.16 h-2.4 M55.47 404.58 h-2.4 M55.47 401.65 h-2.4 M55.47 399.17 h-2.4 M55.47 397.02 h-2.4 M55.47 395.13 h-2.4 M55.47 456.31 h-2.4 M55.47 449.79 h-2.4 M55.47 445.17 h-2.4 M55.47 441.58 h-2.4 M55.47 438.65 h-2.4 M55.47 436.18 h-2.4 M55.47 434.03 h-2.4 M55.47 432.14 h-2.4 M55.47 493.32 h-2.4 M55.47 486.8 h-2.4 M55.47 482.18 h-2.4 M55.47 478.59 h-2.4 M55.47 475.66 h-2.4 M55.47 473.18 h-2.4 M55.47 471.04 h-2.4 M55.47 469.14 h-2.4 M55.47 515.6 h-2.4 M55.47 512.67 h-2.4 M55.47 510.19 h-2.4 M55.47 508.05 h-2.4 M55.47 506.15 h-2.4" stroke="#1a1a1a" stroke-width="0.6" fill="none"/>
<rect x="55.47" y="319.42" width="267.2" height="196.18" fill="none" stroke="#1a1a1a" stroke-width="0.88"/>
<text x="100" y="531.2" font-size="11.8" text-anchor="middle">1000</text>
<text x="155.67" y="531.2" font-size="11.8" text-anchor="middle">2000</text>
<text x="211.34" y="531.2" font-size="11.8" text-anchor="middle">3000</text>
<text x="267" y="531.2" font-size="11.8" text-anchor="middle">4000</text>
<text x="322.67" y="531.2" font-size="11.8" text-anchor="middle">5000</text>
<text x="48.57" y="323.92" font-size="11.8" text-anchor="end">10<tspan dy="-4.9" font-size="8.6">1</tspan></text>
<text x="48.57" y="360.93" font-size="11.8" text-anchor="end">10<tspan dy="-4.9" font-size="8.6">0</tspan></text>
<text x="48.57" y="397.94" font-size="11.8" text-anchor="end">10<tspan dy="-4.9" font-size="8.6">−1</tspan></text>
<text x="48.57" y="434.94" font-size="11.8" text-anchor="end">10<tspan dy="-4.9" font-size="8.6">−2</tspan></text>
<text x="48.57" y="471.95" font-size="11.8" text-anchor="end">10<tspan dy="-4.9" font-size="8.6">−3</tspan></text>
<text x="48.57" y="508.96" font-size="11.8" text-anchor="end">10<tspan dy="-4.9" font-size="8.6">−4</tspan></text>
<text x="144.32" y="545.9" font-size="12.8" font-style="italic" textLength="12.5" lengthAdjust="spacingAndGlyphs" fill="#4a4a4a">M</text>
<text x="157.42" y="545.9" font-size="12.8" fill="#4a4a4a">(</text>
<text x="159.42" y="545.9" font-size="12.8" font-style="italic" textLength="13.2" lengthAdjust="spacingAndGlyphs" fill="#4a4a4a">W</text>
<text x="172.62" y="543.9" font-size="11.6" fill="#4a4a4a">+</text>
<text x="178.72" y="545.9" font-size="12.8" font-style="italic" textLength="13.2" lengthAdjust="spacingAndGlyphs" fill="#4a4a4a">W</text>
<text x="192.02" y="543.9" font-size="11.6" fill="#4a4a4a">−</text>
<text x="200.32" y="545.9" font-size="12.8" fill="#4a4a4a">)</text>
<text x="205.42" y="545.9" font-size="12.8" fill="#4a4a4a">[</text>
<text x="208.92" y="545.9" font-size="12.8" textLength="21.3" lengthAdjust="spacingAndGlyphs" fill="#4a4a4a">GeV</text>
<text x="229.42" y="545.9" font-size="12.8" fill="#4a4a4a">]</text>
<text x="149.12" y="314.62" font-size="12" font-style="italic" textLength="12.6" lengthAdjust="spacing">pp</text>
<path d="M165.32 311.72 h9.6 m-2.6 -2.1 q0.9 1.6 2.8 2.1 q-1.9 0.5 -2.8 2.1" fill="none" stroke="#262626" stroke-width="0.75"/>
<text x="179.12" y="314.62" font-size="12" font-style="italic" textLength="12.6" lengthAdjust="spacingAndGlyphs">W</text>
<text x="191.62" y="311.82" font-size="11.4">+</text>
<text x="198.82" y="314.62" font-size="12" font-style="italic" textLength="12.6" lengthAdjust="spacingAndGlyphs">W</text>
<text x="211.42" y="311.82" font-size="11.4">−</text>
<text x="219.42" y="314.62" font-size="12" font-style="italic">j</text>
<text x="225.82" y="314.62" font-size="12" font-style="italic">j</text>
<g transform="translate(10.17 419.41) rotate(-90)" fill="#333333">
<text x="-25" y="-0.9" font-size="11" text-anchor="middle" font-style="italic" textLength="14.4" lengthAdjust="spacingAndGlyphs">∂σ</text>
<path d="M-33.3 1.1 H-16.2" stroke="#333333" stroke-width="0.75"/>
<text x="-24.8" y="10.2" font-size="10.8" text-anchor="middle" font-style="italic" textLength="16" lengthAdjust="spacingAndGlyphs">∂M</text>
<path d="M-6.0 -7.9 H-8.2 V10.1 H-6.0" stroke="#333333" stroke-width="0.75" fill="none"/>
<text x="12.3" y="-1.9" font-size="10" text-anchor="middle">fb</text>
<path d="M-5.6 1.1 H30.4" stroke="#333333" stroke-width="0.7"/>
<text x="12.6" y="9.8" font-size="10.2" text-anchor="middle" textLength="32.6" lengthAdjust="spacingAndGlyphs">100GeV</text>
<path d="M31.2 -7.9 H33.4 V10.1 H31.2" stroke="#333333" stroke-width="0.75" fill="none"/>
</g>
<text x="188.47" y="292.82" font-size="13.8" font-style="italic" textLength="11.7" lengthAdjust="spacingAndGlyphs">O</text>
<path transform="translate(188.97 292.62)" d="M4.6 -5.6 C4.0 -6.4 3.9 -7.6 4.6 -8.7" fill="none" stroke="#262626" stroke-width="0.9" stroke-linecap="round"/>
<text x="199.97" y="294.52" font-size="9.4" font-style="italic" textLength="7.4" lengthAdjust="spacingAndGlyphs">T</text>
<text x="206.87" y="296.02" font-size="8">2</text>
<rect x="270.07" y="322.87" width="49" height="24" rx="1.6" fill="#ffffff" fill-opacity="0.8" stroke="#cccccc" stroke-width="0.8"/>
<path d="M272.87 329.02 h16.2" stroke="#ff0000" stroke-width="1.25"/>
<path d="M272.87 339.47 h16.2" stroke="#000000" stroke-width="1.25"/>
<text x="294.67" y="331.62" font-size="8"><tspan font-style="italic">F</tspan><tspan dy="1.4" font-size="5.8" font-style="italic">T</tspan><tspan dy="0.9" font-size="4.4">2</tspan><tspan dy="-2.3" dx="1.1" font-size="8.4">=</tspan><tspan dx="0.7" font-style="italic">2</tspan></text>
<text x="294.67" y="342.12" font-size="7.7" textLength="10.6" lengthAdjust="spacingAndGlyphs">SM</text>
</g>
<g>
<clipPath id="c3"><rect x="406.25" y="319.42" width="267.2" height="196.18"/></clipPath>
<path d="M450.78 319.42 V515.6 M506.45 319.42 V515.6 M562.12 319.42 V515.6 M617.78 319.42 V515.6 M673.45 319.42 V515.6 M406.25 319.42 H673.45 M406.25 356.43 H673.45 M406.25 393.44 H673.45 M406.25 430.44 H673.45 M406.25 467.45 H673.45 M406.25 504.46 H673.45" stroke="#b4b4b4" stroke-width="0.8" fill="none"/>
<mask id="m3" maskUnits="userSpaceOnUse" x="404.25" y="317.42" width="271.2" height="200.18"><rect x="404.25" y="317.42" width="271.2" height="200.18" fill="#fff"/><path d="M405.95 521.6 L405.95 324.45 L411.82 324.45 L411.82 335.85 L417.38 335.85 L417.38 347.03 L422.95 347.03 L422.95 356.43 L428.52 356.43 L428.52 364.64 L434.08 364.64 L434.08 372.08 L439.65 372.08 L439.65 378.82 L445.22 378.82 L445.22 385.04 L450.78 385.04 L450.78 390.66 L456.35 390.66 L456.35 395.84 L461.92 395.84 L461.92 400.84 L467.48 400.84 L467.48 405.24 L473.05 405.24 L473.05 409.94 L478.62 409.94 L478.62 413.83 L484.18 413.83 L484.18 417.9 L489.75 417.9 L489.75 421.56 L495.32 421.56 L495.32 425.19 L500.88 425.19 L500.88 429.3 L506.45 429.3 L506.45 432.55 L512.02 432.55 L512.02 436.55 L517.58 436.55 L517.58 440.07 L523.15 440.07 L523.15 443.43 L528.72 443.43 L528.72 448.24 L534.28 448.24 L534.28 448.98 L539.85 448.98 L539.85 452.28 L545.42 452.28 L545.42 455.87 L550.98 455.87 L550.98 458.87 L556.55 458.87 L556.55 461.53 L562.12 461.53 L562.12 465.6 L567.68 465.6 L567.68 468.04 L573.25 468.04 L573.25 476.04 L578.82 476.04 L578.82 474.96 L584.38 474.96 L584.38 478.44 L589.95 478.44 L589.95 483.29 L595.52 483.29 L595.52 487.18 L601.08 487.18 L601.08 489.29 L606.65 489.29 L606.65 491.65 L612.22 491.65 L612.22 493.36 L617.78 493.36 L617.78 502.24 L623.35 502.24 L623.35 501.2 L628.92 501.2 L628.92 500.02 L634.48 500.02 L634.48 521.6 L640.05 521.6 L640.05 509.01 L645.62 509.01 L645.62 521.6 L651.18 521.6 L651.18 514.04 L656.75 514.04 L656.75 521.6 L662.32 521.6 L662.32 521.6 L667.88 521.6 L667.88 521.6 L673.95 521.6 L673.95 521.6" fill="none" stroke="#000" stroke-width="1.5"/></mask>
<g clip-path="url(#c3)" fill="none" stroke-linejoin="miter" stroke-width="1.25">
<g mask="url(#m3)">
<path d="M405.95 521.6 L405.95 324.45 L411.82 324.45 L411.82 335.85 L417.38 335.85 L417.38 347.03 L422.95 347.03 L422.95 356.43 L428.52 356.43 L428.52 364.64 L434.08 364.64 L434.08 372.08 L439.65 372.08 L439.65 378.82 L445.22 378.82 L445.22 385.04 L450.78 385.04 L450.78 390.66 L456.35 390.66 L456.35 395.84 L461.92 395.84 L461.92 400.84 L467.48 400.84 L467.48 405.24 L473.05 405.24 L473.05 409.94 L478.62 409.94 L478.62 413.46 L484.18 413.46 L484.18 417.45 L489.75 417.45 L489.75 421.12 L495.32 421.12 L495.32 424.52 L500.88 424.52 L500.88 428.08 L506.45 428.08 L506.45 431.63 L512.02 431.63 L512.02 435.29 L517.58 435.29 L517.58 437.92 L523.15 437.92 L523.15 441.21 L528.72 441.21 L528.72 444.88 L534.28 444.88 L534.28 446.84 L539.85 446.84 L539.85 447.76 L545.42 447.76 L545.42 451.69 L550.98 451.69 L550.98 453.02 L556.55 453.02 L556.55 454.05 L562.12 454.05 L562.12 455.24 L567.68 455.24 L567.68 456.72 L573.25 456.72 L573.25 457.64 L578.82 457.64 L578.82 460.42 L584.38 460.42 L584.38 465.68 L589.95 465.68 L589.95 463.05 L595.52 463.05 L595.52 462.71 L601.08 462.71 L601.08 464.97 L606.65 464.97 L606.65 466.19 L612.22 466.19 L612.22 466.56 L617.78 466.56 L617.78 467.45 L623.35 467.45 L623.35 468.82 L628.92 468.82 L628.92 470.93 L634.48 470.93 L634.48 471.63 L640.05 471.63 L640.05 472.34 L645.62 472.34 L645.62 473.74 L651.18 473.74 L651.18 474.96 L656.75 474.96 L656.75 476.19 L662.32 476.19 L662.32 477.59 L667.88 477.59 L667.88 478.96 L673.95 478.96 L673.95 521.6" stroke="#ff0000" stroke-dasharray="5.7 2.2"/>
<path d="M405.95 521.6 L405.95 324.45 L411.82 324.45 L411.82 335.85 L417.38 335.85 L417.38 347.03 L422.95 347.03 L422.95 356.43 L428.52 356.43 L428.52 364.64 L434.08 364.64 L434.08 372.08 L439.65 372.08 L439.65 378.82 L445.22 378.82 L445.22 385.04 L450.78 385.04 L450.78 390.66 L456.35 390.66 L456.35 395.84 L461.92 395.84 L461.92 400.84 L467.48 400.84 L467.48 405.24 L473.05 405.24 L473.05 409.94 L478.62 409.94 L478.62 413.46 L484.18 413.46 L484.18 417.45 L489.75 417.45 L489.75 421.12 L495.32 421.12 L495.32 424.52 L500.88 424.52 L500.88 428.08 L506.45 428.08 L506.45 431.63 L512.02 431.63 L512.02 435.29 L517.58 435.29 L517.58 437.92 L523.15 437.92 L523.15 441.21 L528.72 441.21 L528.72 444.88 L534.28 444.88 L534.28 446.84 L539.85 446.84 L539.85 448.8 L545.42 448.8 L545.42 453.02 L550.98 453.02 L550.98 456.94 L556.55 456.94 L556.55 458.27 L562.12 458.27 L562.12 461.35 L567.68 461.35 L567.68 465.08 L573.25 465.08 L573.25 466.75 L578.82 466.75 L578.82 467.08 L584.38 467.08 L584.38 474.08 L589.95 474.08 L589.95 479.33 L595.52 479.33 L595.52 478.44 L601.08 478.44 L601.08 481.07 L606.65 481.07 L606.65 485.96 L612.22 485.96 L612.22 486.33 L617.78 486.33 L617.78 493.32 L623.35 493.32 L623.35 494.73 L628.92 494.73 L628.92 494.21 L634.48 494.21 L634.48 499.43 L640.05 499.43 L640.05 502.42 L645.62 502.42 L645.62 505.2 L651.18 505.2 L651.18 515.19 L656.75 515.19 L656.75 512.19 L662.32 512.19 L662.32 514.3 L667.88 514.3 L667.88 521.6 L673.95 521.6 L673.95 521.6" stroke="#ff0000"/>
</g>
<path d="M405.95 521.6 L405.95 324.45 L411.82 324.45 L411.82 335.85 L417.38 335.85 L417.38 347.03 L422.95 347.03 L422.95 356.43 L428.52 356.43 L428.52 364.64 L434.08 364.64 L434.08 372.08 L439.65 372.08 L439.65 378.82 L445.22 378.82 L445.22 385.04 L450.78 385.04 L450.78 390.66 L456.35 390.66 L456.35 395.84 L461.92 395.84 L461.92 400.84 L467.48 400.84 L467.48 405.24 L473.05 405.24 L473.05 409.94 L478.62 409.94 L478.62 413.83 L484.18 413.83 L484.18 417.9 L489.75 417.9 L489.75 421.56 L495.32 421.56 L495.32 425.19 L500.88 425.19 L500.88 429.3 L506.45 429.3 L506.45 432.55 L512.02 432.55 L512.02 436.55 L517.58 436.55 L517.58 440.07 L523.15 440.07 L523.15 443.43 L528.72 443.43 L528.72 448.24 L534.28 448.24 L534.28 448.98 L539.85 448.98 L539.85 452.28 L545.42 452.28 L545.42 455.87 L550.98 455.87 L550.98 458.87 L556.55 458.87 L556.55 461.53 L562.12 461.53 L562.12 465.6 L567.68 465.6 L567.68 468.04 L573.25 468.04 L573.25 476.04 L578.82 476.04 L578.82 474.96 L584.38 474.96 L584.38 478.44 L589.95 478.44 L589.95 483.29 L595.52 483.29 L595.52 487.18 L601.08 487.18 L601.08 489.29 L606.65 489.29 L606.65 491.65 L612.22 491.65 L612.22 493.36 L617.78 493.36 L617.78 502.24 L623.35 502.24 L623.35 501.2 L628.92 501.2 L628.92 500.02 L634.48 500.02 L634.48 521.6 L640.05 521.6 L640.05 509.01 L645.62 509.01 L645.62 521.6 L651.18 521.6 L651.18 514.04 L656.75 514.04 L656.75 521.6 L662.32 521.6 L662.32 521.6 L667.88 521.6 L667.88 521.6 L673.95 521.6 L673.95 521.6" stroke="#000000"/>
</g>
<path d="M450.78 515.6 v4.2 M506.45 515.6 v4.2 M562.12 515.6 v4.2 M617.78 515.6 v4.2 M673.45 515.6 v4.2 M406.25 319.42 h-4.2 M406.25 356.43 h-4.2 M406.25 393.44 h-4.2 M406.25 430.44 h-4.2 M406.25 467.45 h-4.2 M406.25 504.46 h-4.2" stroke="#1a1a1a" stroke-width="0.8" fill="none"/>
<path d="M406.25 345.29 h-2.4 M406.25 338.77 h-2.4 M406.25 334.15 h-2.4 M406.25 330.56 h-2.4 M406.25 327.63 h-2.4 M406.25 325.15 h-2.4 M406.25 323.01 h-2.4 M406.25 321.11 h-2.4 M406.25 382.3 h-2.4 M406.25 375.78 h-2.4 M406.25 371.15 h-2.4 M406.25 367.57 h-2.4 M406.25 364.64 h-2.4 M406.25 362.16 h-2.4 M406.25 360.01 h-2.4 M406.25 358.12 h-2.4 M406.25 419.3 h-2.4 M406.25 412.79 h-2.4 M406.25 408.16 h-2.4 M406.25 404.58 h-2.4 M406.25 401.65 h-2.4 M406.25 399.17 h-2.4 M406.25 397.02 h-2.4 M406.25 395.13 h-2.4 M406.25 456.31 h-2.4 M406.25 449.79 h-2.4 M406.25 445.17 h-2.4 M406.25 441.58 h-2.4 M406.25 438.65 h-2.4 M406.25 436.18 h-2.4 M406.25 434.03 h-2.4 M406.25 432.14 h-2.4 M406.25 493.32 h-2.4 M406.25 486.8 h-2.4 M406.25 482.18 h-2.4 M406.25 478.59 h-2.4 M406.25 475.66 h-2.4 M406.25 473.18 h-2.4 M406.25 471.04 h-2.4 M406.25 469.14 h-2.4 M406.25 515.6 h-2.4 M406.25 512.67 h-2.4 M406.25 510.19 h-2.4 M406.25 508.05 h-2.4 M406.25 506.15 h-2.4" stroke="#1a1a1a" stroke-width="0.6" fill="none"/>
<rect x="406.25" y="319.42" width="267.2" height="196.18" fill="none" stroke="#1a1a1a" stroke-width="0.88"/>
<text x="450.78" y="531.2" font-size="11.8" text-anchor="middle">1000</text>
<text x="506.45" y="531.2" font-size="11.8" text-anchor="middle">2000</text>
<text x="562.12" y="531.2" font-size="11.8" text-anchor="middle">3000</text>
<text x="617.78" y="531.2" font-size="11.8" text-anchor="middle">4000</text>
<text x="673.45" y="531.2" font-size="11.8" text-anchor="middle">5000</text>
<text x="399.35" y="323.92" font-size="11.8" text-anchor="end">10<tspan dy="-4.9" font-size="8.6">1</tspan></text>
<text x="399.35" y="360.93" font-size="11.8" text-anchor="end">10<tspan dy="-4.9" font-size="8.6">0</tspan></text>
<text x="399.35" y="397.94" font-size="11.8" text-anchor="end">10<tspan dy="-4.9" font-size="8.6">−1</tspan></text>
<text x="399.35" y="434.94" font-size="11.8" text-anchor="end">10<tspan dy="-4.9" font-size="8.6">−2</tspan></text>
<text x="399.35" y="471.95" font-size="11.8" text-anchor="end">10<tspan dy="-4.9" font-size="8.6">−3</tspan></text>
<text x="399.35" y="508.96" font-size="11.8" text-anchor="end">10<tspan dy="-4.9" font-size="8.6">−4</tspan></text>
<text x="495.1" y="545.9" font-size="12.8" font-style="italic" textLength="12.5" lengthAdjust="spacingAndGlyphs" fill="#4a4a4a">M</text>
<text x="508.2" y="545.9" font-size="12.8" fill="#4a4a4a">(</text>
<text x="510.2" y="545.9" font-size="12.8" font-style="italic" textLength="13.2" lengthAdjust="spacingAndGlyphs" fill="#4a4a4a">W</text>
<text x="523.4" y="543.9" font-size="11.6" fill="#4a4a4a">+</text>
<text x="529.5" y="545.9" font-size="12.8" font-style="italic" textLength="13.2" lengthAdjust="spacingAndGlyphs" fill="#4a4a4a">W</text>
<text x="542.8" y="543.9" font-size="11.6" fill="#4a4a4a">−</text>
<text x="551.1" y="545.9" font-size="12.8" fill="#4a4a4a">)</text>
<text x="556.2" y="545.9" font-size="12.8" fill="#4a4a4a">[</text>
<text x="559.7" y="545.9" font-size="12.8" textLength="21.3" lengthAdjust="spacingAndGlyphs" fill="#4a4a4a">GeV</text>
<text x="580.2" y="545.9" font-size="12.8" fill="#4a4a4a">]</text>
<text x="499.9" y="314.62" font-size="12" font-style="italic" textLength="12.6" lengthAdjust="spacing">pp</text>
<path d="M516.1 311.72 h9.6 m-2.6 -2.1 q0.9 1.6 2.8 2.1 q-1.9 0.5 -2.8 2.1" fill="none" stroke="#262626" stroke-width="0.75"/>
<text x="529.9" y="314.62" font-size="12" font-style="italic" textLength="12.6" lengthAdjust="spacingAndGlyphs">W</text>
<text x="542.4" y="311.82" font-size="11.4">+</text>
<text x="549.6" y="314.62" font-size="12" font-style="italic" textLength="12.6" lengthAdjust="spacingAndGlyphs">W</text>
<text x="562.2" y="311.82" font-size="11.4">−</text>
<text x="570.2" y="314.62" font-size="12" font-style="italic">j</text>
<text x="576.6" y="314.62" font-size="12" font-style="italic">j</text>
<g transform="translate(360.95 419.41) rotate(-90)" fill="#333333">
<text x="-25" y="-0.9" font-size="11" text-anchor="middle" font-style="italic" textLength="14.4" lengthAdjust="spacingAndGlyphs">∂σ</text>
<path d="M-33.3 1.1 H-16.2" stroke="#333333" stroke-width="0.75"/>
<text x="-24.8" y="10.2" font-size="10.8" text-anchor="middle" font-style="italic" textLength="16" lengthAdjust="spacingAndGlyphs">∂M</text>
<path d="M-6.0 -7.9 H-8.2 V10.1 H-6.0" stroke="#333333" stroke-width="0.75" fill="none"/>
<text x="12.3" y="-1.9" font-size="10" text-anchor="middle">fb</text>
<path d="M-5.6 1.1 H30.4" stroke="#333333" stroke-width="0.7"/>
<text x="12.6" y="9.8" font-size="10.2" text-anchor="middle" textLength="32.6" lengthAdjust="spacingAndGlyphs">100GeV</text>
<path d="M31.2 -7.9 H33.4 V10.1 H31.2" stroke="#333333" stroke-width="0.75" fill="none"/>
</g>
<text x="542.65" y="292.82" font-size="13.8" font-style="italic" textLength="11.7" lengthAdjust="spacingAndGlyphs">O</text>
<path transform="translate(543.15 292.62)" d="M4.6 -5.6 C4.0 -6.4 3.9 -7.6 4.6 -8.7" fill="none" stroke="#262626" stroke-width="0.9" stroke-linecap="round"/>
<text x="554.65" y="294.52" font-size="9.4" font-style="italic" textLength="10.2" lengthAdjust="spacingAndGlyphs">M</text>
<text x="565.15" y="296.02" font-size="8">0</text>
<rect x="619.45" y="322.87" width="50.4" height="24" rx="1.6" fill="#ffffff" fill-opacity="0.8" stroke="#cccccc" stroke-width="0.8"/>
<path d="M622.25 329.02 h16.2" stroke="#ff0000" stroke-width="1.25"/>
<path d="M622.25 339.47 h16.2" stroke="#000000" stroke-width="1.25"/>
<text x="644.05" y="331.62" font-size="8"><tspan font-style="italic">F</tspan><tspan dy="1.4" font-size="5.8" font-style="italic">M</tspan><tspan dy="0.9" font-size="4.4">0</tspan><tspan dy="-2.3" dx="1.1" font-size="8.4">=</tspan><tspan dx="0.7" font-style="italic">2</tspan></text>
<text x="644.05" y="342.12" font-size="7.7" textLength="10.6" lengthAdjust="spacingAndGlyphs">SM</text>
</g>
<g>
<clipPath id="c4"><rect x="55.47" y="599.35" width="267.2" height="197.1"/></clipPath>
<path d="M100 599.35 V796.45 M155.67 599.35 V796.45 M211.34 599.35 V796.45 M267 599.35 V796.45 M322.67 599.35 V796.45 M55.47 599.35 H322.67 M55.47 636.53 H322.67 M55.47 673.71 H322.67 M55.47 710.89 H322.67 M55.47 748.08 H322.67 M55.47 785.26 H322.67" stroke="#b4b4b4" stroke-width="0.8" fill="none"/>
<mask id="m4" maskUnits="userSpaceOnUse" x="53.47" y="597.35" width="271.2" height="201.1"><rect x="53.47" y="597.35" width="271.2" height="201.1" fill="#fff"/><path d="M55.17 802.45 L55.17 604.41 L61.04 604.41 L61.04 615.86 L66.6 615.86 L66.6 627.09 L72.17 627.09 L72.17 636.53 L77.74 636.53 L77.74 644.79 L83.3 644.79 L83.3 652.26 L88.87 652.26 L88.87 659.03 L94.44 659.03 L94.44 665.27 L100 665.27 L100 670.92 L105.57 670.92 L105.57 676.13 L111.14 676.13 L111.14 681.15 L116.7 681.15 L116.7 685.57 L122.27 685.57 L122.27 690.3 L127.84 690.3 L127.84 694.2 L133.4 694.2 L133.4 698.29 L138.97 698.29 L138.97 701.97 L144.54 701.97 L144.54 705.61 L150.1 705.61 L150.1 709.74 L155.67 709.74 L155.67 713.01 L161.24 713.01 L161.24 717.03 L166.8 717.03 L166.8 720.56 L172.37 720.56 L172.37 723.95 L177.94 723.95 L177.94 728.78 L183.5 728.78 L183.5 729.52 L189.07 729.52 L189.07 732.83 L194.64 732.83 L194.64 736.44 L200.2 736.44 L200.2 739.45 L205.77 739.45 L205.77 742.13 L211.34 742.13 L211.34 746.22 L216.9 746.22 L216.9 748.67 L222.47 748.67 L222.47 756.7 L228.04 756.7 L228.04 755.62 L233.6 755.62 L233.6 759.12 L239.17 759.12 L239.17 763.99 L244.74 763.99 L244.74 767.89 L250.3 767.89 L250.3 770.01 L255.87 770.01 L255.87 772.39 L261.44 772.39 L261.44 774.1 L267 774.1 L267 783.03 L272.57 783.03 L272.57 781.99 L278.14 781.99 L278.14 780.8 L283.7 780.8 L283.7 802.45 L289.27 802.45 L289.27 789.83 L294.84 789.83 L294.84 802.45 L300.4 802.45 L300.4 794.89 L305.97 794.89 L305.97 802.45 L311.54 802.45 L311.54 802.45 L317.1 802.45 L317.1 802.45 L323.17 802.45 L323.17 802.45" fill="none" stroke="#000" stroke-width="1.5"/></mask>
<g clip-path="url(#c4)" fill="none" stroke-linejoin="miter" stroke-width="1.25">
<g mask="url(#m4)">
<path d="M55.17 802.45 L55.17 604.41 L61.04 604.41 L61.04 615.86 L66.6 615.86 L66.6 627.09 L72.17 627.09 L72.17 636.53 L77.74 636.53 L77.74 644.79 L83.3 644.79 L83.3 652.26 L88.87 652.26 L88.87 659.03 L94.44 659.03 L94.44 665.27 L100 665.27 L100 670.92 L105.57 670.92 L105.57 676.13 L111.14 676.13 L111.14 681.15 L116.7 681.15 L116.7 685.57 L122.27 685.57 L122.27 690.3 L127.84 690.3 L127.84 694.2 L133.4 694.2 L133.4 698.29 L138.97 698.29 L138.97 701.97 L144.54 701.97 L144.54 705.61 L150.1 705.61 L150.1 709.74 L155.67 709.74 L155.67 713.01 L161.24 713.01 L161.24 717.03 L166.8 717.03 L166.8 720.56 L172.37 720.56 L172.37 723.95 L177.94 723.95 L177.94 727.29 L183.5 727.29 L183.5 731.38 L189.07 731.38 L189.07 733.95 L194.64 733.95 L194.64 735.32 L200.2 735.32 L200.2 738.33 L205.77 738.33 L205.77 742.87 L211.34 742.87 L211.34 745.47 L216.9 745.47 L216.9 748.41 L222.47 748.41 L222.47 750.2 L228.04 750.2 L228.04 760.72 L233.6 760.72 L233.6 770.35 L239.17 770.35 L239.17 761.57 L244.74 761.57 L244.74 761.57 L250.3 761.57 L250.3 776.48 L255.87 776.48 L255.87 768.23 L261.44 768.23 L261.44 770.01 L267 770.01 L267 772.47 L272.57 772.47 L272.57 774.73 L278.14 774.73 L278.14 778.23 L283.7 778.23 L283.7 782.62 L289.27 782.62 L289.27 782.62 L294.84 782.62 L294.84 782.99 L300.4 782.99 L300.4 787.38 L305.97 787.38 L305.97 787.53 L311.54 787.53 L311.54 791.76 L317.1 791.76 L317.1 794.89 L323.17 794.89 L323.17 802.45" stroke="#ff0000" stroke-dasharray="5.7 2.2"/>
</g>
<path d="M55.17 802.45 L55.17 604.41 L61.04 604.41 L61.04 615.86 L66.6 615.86 L66.6 627.09 L72.17 627.09 L72.17 636.53 L77.74 636.53 L77.74 644.79 L83.3 644.79 L83.3 652.26 L88.87 652.26 L88.87 659.03 L94.44 659.03 L94.44 665.27 L100 665.27 L100 670.92 L105.57 670.92 L105.57 676.13 L111.14 676.13 L111.14 681.15 L116.7 681.15 L116.7 685.57 L122.27 685.57 L122.27 690.3 L127.84 690.3 L127.84 694.2 L133.4 694.2 L133.4 698.29 L138.97 698.29 L138.97 701.97 L144.54 701.97 L144.54 705.61 L150.1 705.61 L150.1 709.74 L155.67 709.74 L155.67 713.01 L161.24 713.01 L161.24 717.03 L166.8 717.03 L166.8 720.56 L172.37 720.56 L172.37 723.95 L177.94 723.95 L177.94 728.78 L183.5 728.78 L183.5 729.52 L189.07 729.52 L189.07 732.83 L194.64 732.83 L194.64 736.44 L200.2 736.44 L200.2 739.45 L205.77 739.45 L205.77 742.13 L211.34 742.13 L211.34 746.22 L216.9 746.22 L216.9 748.67 L222.47 748.67 L222.47 756.7 L228.04 756.7 L228.04 755.62 L233.6 755.62 L233.6 759.12 L239.17 759.12 L239.17 763.99 L244.74 763.99 L244.74 767.89 L250.3 767.89 L250.3 770.01 L255.87 770.01 L255.87 772.39 L261.44 772.39 L261.44 774.1 L267 774.1 L267 783.03 L272.57 783.03 L272.57 781.99 L278.14 781.99 L278.14 780.8 L283.7 780.8 L283.7 802.45 L289.27 802.45 L289.27 789.83 L294.84 789.83 L294.84 802.45 L300.4 802.45 L300.4 794.89 L305.97 794.89 L305.97 802.45 L311.54 802.45 L311.54 802.45 L317.1 802.45 L317.1 802.45 L323.17 802.45 L323.17 802.45" stroke="#000000"/>
</g>
<path d="M100 796.45 v4.2 M155.67 796.45 v4.2 M211.34 796.45 v4.2 M267 796.45 v4.2 M322.67 796.45 v4.2 M55.47 599.35 h-4.2 M55.47 636.53 h-4.2 M55.47 673.71 h-4.2 M55.47 710.89 h-4.2 M55.47 748.08 h-4.2 M55.47 785.26 h-4.2" stroke="#1a1a1a" stroke-width="0.8" fill="none"/>
<path d="M55.47 625.34 h-2.4 M55.47 618.79 h-2.4 M55.47 614.15 h-2.4 M55.47 610.54 h-2.4 M55.47 607.6 h-2.4 M55.47 605.11 h-2.4 M55.47 602.95 h-2.4 M55.47 601.05 h-2.4 M55.47 662.52 h-2.4 M55.47 655.97 h-2.4 M55.47 651.33 h-2.4 M55.47 647.72 h-2.4 M55.47 644.78 h-2.4 M55.47 642.29 h-2.4 M55.47 640.13 h-2.4 M55.47 638.23 h-2.4 M55.47 699.7 h-2.4 M55.47 693.15 h-2.4 M55.47 688.51 h-2.4 M55.47 684.91 h-2.4 M55.47 681.96 h-2.4 M55.47 679.47 h-2.4 M55.47 677.32 h-2.4 M55.47 675.41 h-2.4 M55.47 736.88 h-2.4 M55.47 730.34 h-2.4 M55.47 725.69 h-2.4 M55.47 722.09 h-2.4 M55.47 719.14 h-2.4 M55.47 716.65 h-2.4 M55.47 714.5 h-2.4 M55.47 712.6 h-2.4 M55.47 774.06 h-2.4 M55.47 767.52 h-2.4 M55.47 762.87 h-2.4 M55.47 759.27 h-2.4 M55.47 756.32 h-2.4 M55.47 753.84 h-2.4 M55.47 751.68 h-2.4 M55.47 749.78 h-2.4 M55.47 796.45 h-2.4 M55.47 793.51 h-2.4 M55.47 791.02 h-2.4 M55.47 788.86 h-2.4 M55.47 786.96 h-2.4" stroke="#1a1a1a" stroke-width="0.6" fill="none"/>
<rect x="55.47" y="599.35" width="267.2" height="197.1" fill="none" stroke="#1a1a1a" stroke-width="0.88"/>
<text x="100" y="812.05" font-size="11.8" text-anchor="middle">1000</text>
<text x="155.67" y="812.05" font-size="11.8" text-anchor="middle">2000</text>
<text x="211.34" y="812.05" font-size="11.8" text-anchor="middle">3000</text>
<text x="267" y="812.05" font-size="11.8" text-anchor="middle">4000</text>
<text x="322.67" y="812.05" font-size="11.8" text-anchor="middle">5000</text>
<text x="48.57" y="603.85" font-size="11.8" text-anchor="end">10<tspan dy="-4.9" font-size="8.6">1</tspan></text>
<text x="48.57" y="641.03" font-size="11.8" text-anchor="end">10<tspan dy="-4.9" font-size="8.6">0</tspan></text>
<text x="48.57" y="678.21" font-size="11.8" text-anchor="end">10<tspan dy="-4.9" font-size="8.6">−1</tspan></text>
<text x="48.57" y="715.39" font-size="11.8" text-anchor="end">10<tspan dy="-4.9" font-size="8.6">−2</tspan></text>
<text x="48.57" y="752.58" font-size="11.8" text-anchor="end">10<tspan dy="-4.9" font-size="8.6">−3</tspan></text>
<text x="48.57" y="789.76" font-size="11.8" text-anchor="end">10<tspan dy="-4.9" font-size="8.6">−4</tspan></text>
<text x="144.32" y="826.75" font-size="12.8" font-style="italic" textLength="12.5" lengthAdjust="spacingAndGlyphs" fill="#4a4a4a">M</text>
<text x="157.42" y="826.75" font-size="12.8" fill="#4a4a4a">(</text>
<text x="159.42" y="826.75" font-size="12.8" font-style="italic" textLength="13.2" lengthAdjust="spacingAndGlyphs" fill="#4a4a4a">W</text>
<text x="172.62" y="824.75" font-size="11.6" fill="#4a4a4a">+</text>
<text x="178.72" y="826.75" font-size="12.8" font-style="italic" textLength="13.2" lengthAdjust="spacingAndGlyphs" fill="#4a4a4a">W</text>
<text x="192.02" y="824.75" font-size="11.6" fill="#4a4a4a">−</text>
<text x="200.32" y="826.75" font-size="12.8" fill="#4a4a4a">)</text>
<text x="205.42" y="826.75" font-size="12.8" fill="#4a4a4a">[</text>
<text x="208.92" y="826.75" font-size="12.8" textLength="21.3" lengthAdjust="spacingAndGlyphs" fill="#4a4a4a">GeV</text>
<text x="229.42" y="826.75" font-size="12.8" fill="#4a4a4a">]</text>
<text x="149.12" y="594.55" font-size="12" font-style="italic" textLength="12.6" lengthAdjust="spacing">pp</text>
<path d="M165.32 591.65 h9.6 m-2.6 -2.1 q0.9 1.6 2.8 2.1 q-1.9 0.5 -2.8 2.1" fill="none" stroke="#262626" stroke-width="0.75"/>
<text x="179.12" y="594.55" font-size="12" font-style="italic" textLength="12.6" lengthAdjust="spacingAndGlyphs">W</text>
<text x="191.62" y="591.75" font-size="11.4">+</text>
<text x="198.82" y="594.55" font-size="12" font-style="italic" textLength="12.6" lengthAdjust="spacingAndGlyphs">W</text>
<text x="211.42" y="591.75" font-size="11.4">−</text>
<text x="219.42" y="594.55" font-size="12" font-style="italic">j</text>
<text x="225.82" y="594.55" font-size="12" font-style="italic">j</text>
<g transform="translate(10.17 699.8) rotate(-90)" fill="#333333">
<text x="-25" y="-0.9" font-size="11" text-anchor="middle" font-style="italic" textLength="14.4" lengthAdjust="spacingAndGlyphs">∂σ</text>
<path d="M-33.3 1.1 H-16.2" stroke="#333333" stroke-width="0.75"/>
<text x="-24.8" y="10.2" font-size="10.8" text-anchor="middle" font-style="italic" textLength="16" lengthAdjust="spacingAndGlyphs">∂M</text>
<path d="M-6.0 -7.9 H-8.2 V10.1 H-6.0" stroke="#333333" stroke-width="0.75" fill="none"/>
<text x="12.3" y="-1.9" font-size="10" text-anchor="middle">fb</text>
<path d="M-5.6 1.1 H30.4" stroke="#333333" stroke-width="0.7"/>
<text x="12.6" y="9.8" font-size="10.2" text-anchor="middle" textLength="32.6" lengthAdjust="spacingAndGlyphs">100GeV</text>
<path d="M31.2 -7.9 H33.4 V10.1 H31.2" stroke="#333333" stroke-width="0.75" fill="none"/>
</g>
<text x="188.47" y="572.75" font-size="13.8" font-style="italic" textLength="11.7" lengthAdjust="spacingAndGlyphs">O</text>
<path transform="translate(188.97 572.55)" d="M4.6 -5.6 C4.0 -6.4 3.9 -7.6 4.6 -8.7" fill="none" stroke="#262626" stroke-width="0.9" stroke-linecap="round"/>
<text x="200.47" y="574.45" font-size="9.4" font-style="italic" textLength="10.2" lengthAdjust="spacingAndGlyphs">M</text>
<text x="210.97" y="575.95" font-size="8">1</text>
<rect x="280.47" y="603.2" width="38.6" height="13.2" rx="1.6" fill="#ffffff" fill-opacity="0.8" stroke="#cccccc" stroke-width="0.8"/>
<path d="M283.27 609.2 h16.2" stroke="#000000" stroke-width="1.25"/>
<text x="304.87" y="611.85" font-size="7.7" textLength="10.6" lengthAdjust="spacingAndGlyphs">SM</text>
</g>
<g>
<clipPath id="c5"><rect x="406.25" y="599.35" width="267.2" height="197.1"/></clipPath>
<path d="M450.78 599.35 V796.45 M506.45 599.35 V796.45 M562.12 599.35 V796.45 M617.78 599.35 V796.45 M673.45 599.35 V796.45 M406.25 599.35 H673.45 M406.25 636.53 H673.45 M406.25 673.71 H673.45 M406.25 710.89 H673.45 M406.25 748.08 H673.45 M406.25 785.26 H673.45" stroke="#b4b4b4" stroke-width="0.8" fill="none"/>
<mask id="m5" maskUnits="userSpaceOnUse" x="404.25" y="597.35" width="271.2" height="201.1"><rect x="404.25" y="597.35" width="271.2" height="201.1" fill="#fff"/><path d="M405.95 802.45 L405.95 604.41 L411.82 604.41 L411.82 615.86 L417.38 615.86 L417.38 627.09 L422.95 627.09 L422.95 636.53 L428.52 636.53 L428.52 644.79 L434.08 644.79 L434.08 652.26 L439.65 652.26 L439.65 659.03 L445.22 659.03 L445.22 665.27 L450.78 665.27 L450.78 670.92 L456.35 670.92 L456.35 676.13 L461.92 676.13 L461.92 681.15 L467.48 681.15 L467.48 685.57 L473.05 685.57 L473.05 690.3 L478.62 690.3 L478.62 694.2 L484.18 694.2 L484.18 698.29 L489.75 698.29 L489.75 701.97 L495.32 701.97 L495.32 705.61 L500.88 705.61 L500.88 709.74 L506.45 709.74 L506.45 713.01 L512.02 713.01 L512.02 717.03 L517.58 717.03 L517.58 720.56 L523.15 720.56 L523.15 723.95 L528.72 723.95 L528.72 728.78 L534.28 728.78 L534.28 729.52 L539.85 729.52 L539.85 732.83 L545.42 732.83 L545.42 736.44 L550.98 736.44 L550.98 739.45 L556.55 739.45 L556.55 742.13 L562.12 742.13 L562.12 746.22 L567.68 746.22 L567.68 748.67 L573.25 748.67 L573.25 756.7 L578.82 756.7 L578.82 755.62 L584.38 755.62 L584.38 759.12 L589.95 759.12 L589.95 763.99 L595.52 763.99 L595.52 767.89 L601.08 767.89 L601.08 770.01 L606.65 770.01 L606.65 772.39 L612.22 772.39 L612.22 774.1 L617.78 774.1 L617.78 783.03 L623.35 783.03 L623.35 781.99 L628.92 781.99 L628.92 780.8 L634.48 780.8 L634.48 802.45 L640.05 802.45 L640.05 789.83 L645.62 789.83 L645.62 802.45 L651.18 802.45 L651.18 794.89 L656.75 794.89 L656.75 802.45 L662.32 802.45 L662.32 802.45 L667.88 802.45 L667.88 802.45 L673.95 802.45 L673.95 802.45" fill="none" stroke="#000" stroke-width="1.5"/></mask>
<g clip-path="url(#c5)" fill="none" stroke-linejoin="miter" stroke-width="1.25">
<g mask="url(#m5)">
<path d="M405.95 802.45 L405.95 604.41 L411.82 604.41 L411.82 615.86 L417.38 615.86 L417.38 627.09 L422.95 627.09 L422.95 636.53 L428.52 636.53 L428.52 644.79 L434.08 644.79 L434.08 652.26 L439.65 652.26 L439.65 659.03 L445.22 659.03 L445.22 665.27 L450.78 665.27 L450.78 670.92 L456.35 670.92 L456.35 676.13 L461.92 676.13 L461.92 681.15 L467.48 681.15 L467.48 685.57 L473.05 685.57 L473.05 690.3 L478.62 690.3 L478.62 694.2 L484.18 694.2 L484.18 698.29 L489.75 698.29 L489.75 701.23 L495.32 701.23 L495.32 706.73 L500.88 706.73 L500.88 708.63 L506.45 708.63 L506.45 714.13 L512.02 714.13 L512.02 717.48 L517.58 717.48 L517.58 720.12 L523.15 720.12 L523.15 724.87 L528.72 724.87 L528.72 726.18 L534.28 726.18 L534.28 732.87 L539.85 732.87 L539.85 733.58 L545.42 733.58 L545.42 735.69 L550.98 735.69 L550.98 742.8 L556.55 742.8 L556.55 744.36 L562.12 744.36 L562.12 747.7 L567.68 747.7 L567.68 748.67 L573.25 748.67 L573.25 751.05 L578.82 751.05 L578.82 755.14 L584.38 755.14 L584.38 764.88 L589.95 764.88 L589.95 762.02 L595.52 762.02 L595.52 767.41 L601.08 767.41 L601.08 778.71 L606.65 778.71 L606.65 776.97 L612.22 776.97 L612.22 771.02 L617.78 771.02 L617.78 776.15 L623.35 776.15 L623.35 782.8 L628.92 782.8 L628.92 789.46 L634.48 789.46 L634.48 792.69 L640.05 792.69 L640.05 789.64 L645.62 789.64 L645.62 795.78 L651.18 795.78 L651.18 794.89 L656.75 794.89 L656.75 794.03 L662.32 794.03 L662.32 794.03 L667.88 794.03 L667.88 802.45 L673.95 802.45 L673.95 802.45" stroke="#ff0000" stroke-dasharray="5.7 2.2"/>
<path d="M405.95 802.45 L405.95 604.41 L411.82 604.41 L411.82 615.86 L417.38 615.86 L417.38 627.09 L422.95 627.09 L422.95 636.53 L428.52 636.53 L428.52 644.79 L434.08 644.79 L434.08 652.26 L439.65 652.26 L439.65 659.03 L445.22 659.03 L445.22 665.27 L450.78 665.27 L450.78 670.92 L456.35 670.92 L456.35 676.13 L461.92 676.13 L461.92 681.15 L467.48 681.15 L467.48 685.57 L473.05 685.57 L473.05 690.3 L478.62 690.3 L478.62 694.2 L484.18 694.2 L484.18 698.29 L489.75 698.29 L489.75 701.23 L495.32 701.23 L495.32 706.73 L500.88 706.73 L500.88 708.63 L506.45 708.63 L506.45 714.13 L512.02 714.13 L512.02 717.48 L517.58 717.48 L517.58 720.12 L523.15 720.12 L523.15 724.87 L528.72 724.87 L528.72 726.18 L534.28 726.18 L534.28 735.84 L539.85 735.84 L539.85 733.58 L545.42 733.58 L545.42 735.69 L550.98 735.69 L550.98 742.8 L556.55 742.8 L556.55 744.36 L562.12 744.36 L562.12 747.7 L567.68 747.7 L567.68 748.67 L573.25 748.67 L573.25 751.05 L578.82 751.05 L578.82 767.41 L584.38 767.41 L584.38 769.49 L589.95 769.49 L589.95 784.85 L595.52 784.85 L595.52 764.06 L601.08 764.06 L601.08 769.49 L606.65 769.49 L606.65 771.02 L612.22 771.02 L612.22 770.2 L617.78 770.2 L617.78 776.15 L623.35 776.15 L623.35 779.2 L628.92 779.2 L628.92 782.51 L634.48 782.51 L634.48 782.73 L640.05 782.73 L640.05 789.27 L645.62 789.27 L645.62 791.39 L651.18 791.39 L651.18 794.89 L656.75 794.89 L656.75 802.45 L662.32 802.45 L662.32 802.45 L667.88 802.45 L667.88 802.45 L673.95 802.45 L673.95 802.45" stroke="#ff0000"/>
</g>
<path d="M405.95 802.45 L405.95 604.41 L411.82 604.41 L411.82 615.86 L417.38 615.86 L417.38 627.09 L422.95 627.09 L422.95 636.53 L428.52 636.53 L428.52 644.79 L434.08 644.79 L434.08 652.26 L439.65 652.26 L439.65 659.03 L445.22 659.03 L445.22 665.27 L450.78 665.27 L450.78 670.92 L456.35 670.92 L456.35 676.13 L461.92 676.13 L461.92 681.15 L467.48 681.15 L467.48 685.57 L473.05 685.57 L473.05 690.3 L478.62 690.3 L478.62 694.2 L484.18 694.2 L484.18 698.29 L489.75 698.29 L489.75 701.97 L495.32 701.97 L495.32 705.61 L500.88 705.61 L500.88 709.74 L506.45 709.74 L506.45 713.01 L512.02 713.01 L512.02 717.03 L517.58 717.03 L517.58 720.56 L523.15 720.56 L523.15 723.95 L528.72 723.95 L528.72 728.78 L534.28 728.78 L534.28 729.52 L539.85 729.52 L539.85 732.83 L545.42 732.83 L545.42 736.44 L550.98 736.44 L550.98 739.45 L556.55 739.45 L556.55 742.13 L562.12 742.13 L562.12 746.22 L567.68 746.22 L567.68 748.67 L573.25 748.67 L573.25 756.7 L578.82 756.7 L578.82 755.62 L584.38 755.62 L584.38 759.12 L589.95 759.12 L589.95 763.99 L595.52 763.99 L595.52 767.89 L601.08 767.89 L601.08 770.01 L606.65 770.01 L606.65 772.39 L612.22 772.39 L612.22 774.1 L617.78 774.1 L617.78 783.03 L623.35 783.03 L623.35 781.99 L628.92 781.99 L628.92 780.8 L634.48 780.8 L634.48 802.45 L640.05 802.45 L640.05 789.83 L645.62 789.83 L645.62 802.45 L651.18 802.45 L651.18 794.89 L656.75 794.89 L656.75 802.45 L662.32 802.45 L662.32 802.45 L667.88 802.45 L667.88 802.45 L673.95 802.45 L673.95 802.45" stroke="#000000"/>
</g>
<path d="M450.78 796.45 v4.2 M506.45 796.45 v4.2 M562.12 796.45 v4.2 M617.78 796.45 v4.2 M673.45 796.45 v4.2 M406.25 599.35 h-4.2 M406.25 636.53 h-4.2 M406.25 673.71 h-4.2 M406.25 710.89 h-4.2 M406.25 748.08 h-4.2 M406.25 785.26 h-4.2" stroke="#1a1a1a" stroke-width="0.8" fill="none"/>
<path d="M406.25 625.34 h-2.4 M406.25 618.79 h-2.4 M406.25 614.15 h-2.4 M406.25 610.54 h-2.4 M406.25 607.6 h-2.4 M406.25 605.11 h-2.4 M406.25 602.95 h-2.4 M406.25 601.05 h-2.4 M406.25 662.52 h-2.4 M406.25 655.97 h-2.4 M406.25 651.33 h-2.4 M406.25 647.72 h-2.4 M406.25 644.78 h-2.4 M406.25 642.29 h-2.4 M406.25 640.13 h-2.4 M406.25 638.23 h-2.4 M406.25 699.7 h-2.4 M406.25 693.15 h-2.4 M406.25 688.51 h-2.4 M406.25 684.91 h-2.4 M406.25 681.96 h-2.4 M406.25 679.47 h-2.4 M406.25 677.32 h-2.4 M406.25 675.41 h-2.4 M406.25 736.88 h-2.4 M406.25 730.34 h-2.4 M406.25 725.69 h-2.4 M406.25 722.09 h-2.4 M406.25 719.14 h-2.4 M406.25 716.65 h-2.4 M406.25 714.5 h-2.4 M406.25 712.6 h-2.4 M406.25 774.06 h-2.4 M406.25 767.52 h-2.4 M406.25 762.87 h-2.4 M406.25 759.27 h-2.4 M406.25 756.32 h-2.4 M406.25 753.84 h-2.4 M406.25 751.68 h-2.4 M406.25 749.78 h-2.4 M406.25 796.45 h-2.4 M406.25 793.51 h-2.4 M406.25 791.02 h-2.4 M406.25 788.86 h-2.4 M406.25 786.96 h-2.4" stroke="#1a1a1a" stroke-width="0.6" fill="none"/>
<rect x="406.25" y="599.35" width="267.2" height="197.1" fill="none" stroke="#1a1a1a" stroke-width="0.88"/>
<text x="450.78" y="812.05" font-size="11.8" text-anchor="middle">1000</text>
<text x="506.45" y="812.05" font-size="11.8" text-anchor="middle">2000</text>
<text x="562.12" y="812.05" font-size="11.8" text-anchor="middle">3000</text>
<text x="617.78" y="812.05" font-size="11.8" text-anchor="middle">4000</text>
<text x="673.45" y="812.05" font-size="11.8" text-anchor="middle">5000</text>
<text x="399.35" y="603.85" font-size="11.8" text-anchor="end">10<tspan dy="-4.9" font-size="8.6">1</tspan></text>
<text x="399.35" y="641.03" font-size="11.8" text-anchor="end">10<tspan dy="-4.9" font-size="8.6">0</tspan></text>
<text x="399.35" y="678.21" font-size="11.8" text-anchor="end">10<tspan dy="-4.9" font-size="8.6">−1</tspan></text>
<text x="399.35" y="715.39" font-size="11.8" text-anchor="end">10<tspan dy="-4.9" font-size="8.6">−2</tspan></text>
<text x="399.35" y="752.58" font-size="11.8" text-anchor="end">10<tspan dy="-4.9" font-size="8.6">−3</tspan></text>
<text x="399.35" y="789.76" font-size="11.8" text-anchor="end">10<tspan dy="-4.9" font-size="8.6">−4</tspan></text>
<text x="495.1" y="826.75" font-size="12.8" font-style="italic" textLength="12.5" lengthAdjust="spacingAndGlyphs" fill="#4a4a4a">M</text>
<text x="508.2" y="826.75" font-size="12.8" fill="#4a4a4a">(</text>
<text x="510.2" y="826.75" font-size="12.8" font-style="italic" textLength="13.2" lengthAdjust="spacingAndGlyphs" fill="#4a4a4a">W</text>
<text x="523.4" y="824.75" font-size="11.6" fill="#4a4a4a">+</text>
<text x="529.5" y="826.75" font-size="12.8" font-style="italic" textLength="13.2" lengthAdjust="spacingAndGlyphs" fill="#4a4a4a">W</text>
<text x="542.8" y="824.75" font-size="11.6" fill="#4a4a4a">−</text>
<text x="551.1" y="826.75" font-size="12.8" fill="#4a4a4a">)</text>
<text x="556.2" y="826.75" font-size="12.8" fill="#4a4a4a">[</text>
<text x="559.7" y="826.75" font-size="12.8" textLength="21.3" lengthAdjust="spacingAndGlyphs" fill="#4a4a4a">GeV</text>
<text x="580.2" y="826.75" font-size="12.8" fill="#4a4a4a">]</text>
<text x="499.9" y="594.55" font-size="12" font-style="italic" textLength="12.6" lengthAdjust="spacing">pp</text>
<path d="M516.1 591.65 h9.6 m-2.6 -2.1 q0.9 1.6 2.8 2.1 q-1.9 0.5 -2.8 2.1" fill="none" stroke="#262626" stroke-width="0.75"/>
<text x="529.9" y="594.55" font-size="12" font-style="italic" textLength="12.6" lengthAdjust="spacingAndGlyphs">W</text>
<text x="542.4" y="591.75" font-size="11.4">+</text>
<text x="549.6" y="594.55" font-size="12" font-style="italic" textLength="12.6" lengthAdjust="spacingAndGlyphs">W</text>
<text x="562.2" y="591.75" font-size="11.4">−</text>
<text x="570.2" y="594.55" font-size="12" font-style="italic">j</text>
<text x="576.6" y="594.55" font-size="12" font-style="italic">j</text>
<g transform="translate(360.95 699.8) rotate(-90)" fill="#333333">
<text x="-25" y="-0.9" font-size="11" text-anchor="middle" font-style="italic" textLength="14.4" lengthAdjust="spacingAndGlyphs">∂σ</text>
<path d="M-33.3 1.1 H-16.2" stroke="#333333" stroke-width="0.75"/>
<text x="-24.8" y="10.2" font-size="10.8" text-anchor="middle" font-style="italic" textLength="16" lengthAdjust="spacingAndGlyphs">∂M</text>
<path d="M-6.0 -7.9 H-8.2 V10.1 H-6.0" stroke="#333333" stroke-width="0.75" fill="none"/>
<text x="12.3" y="-1.9" font-size="10" text-anchor="middle">fb</text>
<path d="M-5.6 1.1 H30.4" stroke="#333333" stroke-width="0.7"/>
<text x="12.6" y="9.8" font-size="10.2" text-anchor="middle" textLength="32.6" lengthAdjust="spacingAndGlyphs">100GeV</text>
<path d="M31.2 -7.9 H33.4 V10.1 H31.2" stroke="#333333" stroke-width="0.75" fill="none"/>
</g>
<text x="542.65" y="572.75" font-size="13.8" font-style="italic" textLength="11.7" lengthAdjust="spacingAndGlyphs">O</text>
<path transform="translate(543.15 572.55)" d="M4.6 -5.6 C4.0 -6.4 3.9 -7.6 4.6 -8.7" fill="none" stroke="#262626" stroke-width="0.9" stroke-linecap="round"/>
<text x="554.65" y="574.45" font-size="9.4" font-style="italic" textLength="10.2" lengthAdjust="spacingAndGlyphs">M</text>
<text x="565.15" y="575.95" font-size="8">7</text>
<rect x="619.45" y="602.8" width="50.4" height="24" rx="1.6" fill="#ffffff" fill-opacity="0.8" stroke="#cccccc" stroke-width="0.8"/>
<path d="M622.25 608.95 h16.2" stroke="#ff0000" stroke-width="1.25"/>
<path d="M622.25 619.4 h16.2" stroke="#000000" stroke-width="1.25"/>
<text x="644.05" y="611.55" font-size="8"><tspan font-style="italic">F</tspan><tspan dy="1.4" font-size="5.8" font-style="italic">M</tspan><tspan dy="0.9" font-size="4.4">7</tspan><tspan dy="-2.3" dx="1.1" font-size="8.4">=</tspan><tspan dx="0.7" font-style="italic">2</tspan></text>
<text x="644.05" y="622.05" font-size="7.7" textLength="10.6" lengthAdjust="spacingAndGlyphs">SM</text>
</g>
</g>
</svg></body></html>
